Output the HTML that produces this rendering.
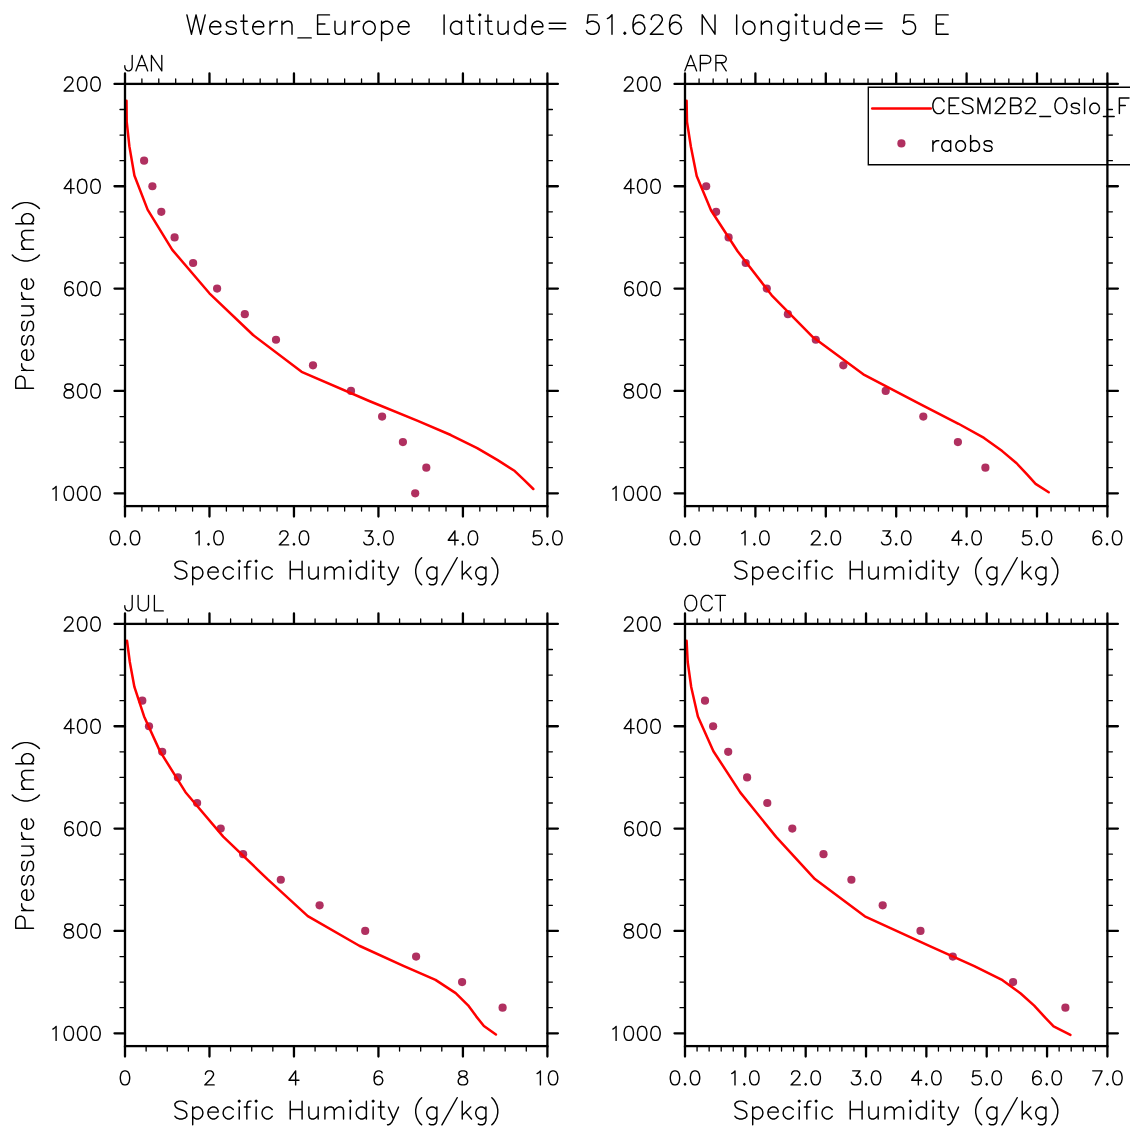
<!DOCTYPE html>
<html><head><meta charset="utf-8"><title>Western_Europe</title>
<style>html,body{margin:0;padding:0;background:#fff;font-family:"Liberation Sans",sans-serif;}svg{display:block}</style>
</head><body>
<svg width="1135" height="1135" viewBox="0 0 1135 1135" role="img" aria-label="Specific humidity profiles, Western Europe">
<desc>Western_Europe latitude= 51.626 N longitude= 5 E. Panels JAN, APR, JUL, OCT. Pressure (mb) versus Specific Humidity (g/kg). Legend: CESM2B2_Oslo_F (red line), raobs (maroon dots).</desc>
<circle cx="144.10" cy="160.66" r="4.10" fill="#b03060"/>
<circle cx="152.40" cy="186.25" r="4.10" fill="#b03060"/>
<circle cx="161.30" cy="211.84" r="4.10" fill="#b03060"/>
<circle cx="174.60" cy="237.42" r="4.10" fill="#b03060"/>
<circle cx="193.10" cy="263.01" r="4.10" fill="#b03060"/>
<circle cx="217.10" cy="288.60" r="4.10" fill="#b03060"/>
<circle cx="244.80" cy="314.19" r="4.10" fill="#b03060"/>
<circle cx="276.00" cy="339.77" r="4.10" fill="#b03060"/>
<circle cx="313.00" cy="365.36" r="4.10" fill="#b03060"/>
<circle cx="351.00" cy="390.95" r="4.10" fill="#b03060"/>
<circle cx="382.10" cy="416.54" r="4.10" fill="#b03060"/>
<circle cx="402.90" cy="442.12" r="4.10" fill="#b03060"/>
<circle cx="426.30" cy="467.71" r="4.10" fill="#b03060"/>
<circle cx="415.20" cy="493.30" r="4.10" fill="#b03060"/>
<polyline points="126.50,100.68 126.70,121.69 129.40,146.39 134.40,175.47 147.60,209.60 172.30,249.85 209.40,293.30 253.10,335.02 301.60,371.83 369.80,401.23 417.80,420.96 450.80,435.02 477.20,448.11 497.70,460.17 514.80,471.06 524.80,480.67 533.30,489.01" fill="none" stroke="#ff0000" stroke-width="2.50" stroke-linejoin="round" stroke-linecap="round"/>
<circle cx="706.20" cy="186.25" r="4.10" fill="#b03060"/>
<circle cx="716.10" cy="211.84" r="4.10" fill="#b03060"/>
<circle cx="728.60" cy="237.42" r="4.10" fill="#b03060"/>
<circle cx="745.70" cy="263.01" r="4.10" fill="#b03060"/>
<circle cx="766.80" cy="288.60" r="4.10" fill="#b03060"/>
<circle cx="787.90" cy="314.19" r="4.10" fill="#b03060"/>
<circle cx="815.80" cy="339.77" r="4.10" fill="#b03060"/>
<circle cx="843.30" cy="365.36" r="4.10" fill="#b03060"/>
<circle cx="885.70" cy="390.95" r="4.10" fill="#b03060"/>
<circle cx="923.30" cy="416.54" r="4.10" fill="#b03060"/>
<circle cx="957.90" cy="442.12" r="4.10" fill="#b03060"/>
<circle cx="985.40" cy="467.71" r="4.10" fill="#b03060"/>
<polyline points="686.60,100.74 687.00,121.86 690.90,146.71 696.70,176.02 711.10,210.50 737.60,251.24 771.70,295.30 813.10,337.28 863.30,374.33 919.70,403.91 958.50,423.77 984.00,437.92 1002.20,451.09 1016.60,463.24 1026.80,474.20 1035.60,483.87 1048.70,492.26" fill="none" stroke="#ff0000" stroke-width="2.50" stroke-linejoin="round" stroke-linecap="round"/>
<circle cx="142.30" cy="700.66" r="4.10" fill="#b03060"/>
<circle cx="149.00" cy="726.25" r="4.10" fill="#b03060"/>
<circle cx="162.20" cy="751.84" r="4.10" fill="#b03060"/>
<circle cx="177.90" cy="777.42" r="4.10" fill="#b03060"/>
<circle cx="197.10" cy="803.01" r="4.10" fill="#b03060"/>
<circle cx="220.70" cy="828.60" r="4.10" fill="#b03060"/>
<circle cx="243.10" cy="854.19" r="4.10" fill="#b03060"/>
<circle cx="280.80" cy="879.77" r="4.10" fill="#b03060"/>
<circle cx="319.60" cy="905.36" r="4.10" fill="#b03060"/>
<circle cx="365.20" cy="930.95" r="4.10" fill="#b03060"/>
<circle cx="416.10" cy="956.54" r="4.10" fill="#b03060"/>
<circle cx="462.10" cy="982.12" r="4.10" fill="#b03060"/>
<circle cx="502.60" cy="1007.71" r="4.10" fill="#b03060"/>
<polyline points="127.00,640.78 129.80,661.97 134.40,686.93 144.10,716.41 159.90,751.11 185.50,792.20 223.20,836.67 267.20,878.84 307.80,916.05 359.30,945.76 402.80,965.71 435.50,979.92 455.70,993.15 468.10,1005.35 476.20,1016.35 483.90,1026.07 495.90,1034.49" fill="none" stroke="#ff0000" stroke-width="2.50" stroke-linejoin="round" stroke-linecap="round"/>
<circle cx="705.00" cy="700.66" r="4.10" fill="#b03060"/>
<circle cx="713.10" cy="726.25" r="4.10" fill="#b03060"/>
<circle cx="728.20" cy="751.84" r="4.10" fill="#b03060"/>
<circle cx="747.10" cy="777.42" r="4.10" fill="#b03060"/>
<circle cx="767.30" cy="803.01" r="4.10" fill="#b03060"/>
<circle cx="792.30" cy="828.60" r="4.10" fill="#b03060"/>
<circle cx="823.50" cy="854.19" r="4.10" fill="#b03060"/>
<circle cx="851.40" cy="879.77" r="4.10" fill="#b03060"/>
<circle cx="882.70" cy="905.36" r="4.10" fill="#b03060"/>
<circle cx="920.50" cy="930.95" r="4.10" fill="#b03060"/>
<circle cx="952.80" cy="956.54" r="4.10" fill="#b03060"/>
<circle cx="1013.10" cy="982.12" r="4.10" fill="#b03060"/>
<circle cx="1065.40" cy="1007.71" r="4.10" fill="#b03060"/>
<polyline points="686.60,640.79 687.70,661.99 691.20,686.96 697.90,716.47 713.40,751.21 740.20,792.35 776.10,836.89 814.90,879.09 864.80,916.32 929.80,946.06 974.30,966.02 1002.50,980.24 1020.70,993.48 1034.20,1005.68 1044.30,1016.70 1053.60,1026.42 1070.40,1034.85" fill="none" stroke="#ff0000" stroke-width="2.50" stroke-linejoin="round" stroke-linecap="round"/>
<rect x="125.00" y="83.90" width="422.40" height="422.20" fill="none" stroke="#000" stroke-width="2.30"/>
<path d="M125.00 83.90 V73.40 M125.00 506.10 V516.60 M209.48 83.90 V73.40 M209.48 506.10 V516.60 M293.96 83.90 V73.40 M293.96 506.10 V516.60 M378.44 83.90 V73.40 M378.44 506.10 V516.60 M462.92 83.90 V73.40 M462.92 506.10 V516.60 M547.40 83.90 V73.40 M547.40 506.10 V516.60 M125.00 83.90 H114.50 M547.40 83.90 H557.90 M125.00 186.25 H114.50 M547.40 186.25 H557.90 M125.00 288.60 H114.50 M547.40 288.60 H557.90 M125.00 390.95 H114.50 M547.40 390.95 H557.90 M125.00 493.30 H114.50 M547.40 493.30 H557.90" stroke="#000" stroke-width="2.30" stroke-linecap="round" fill="none"/>
<path d="M141.90 83.90 V78.90 M141.90 506.10 V511.10 M158.79 83.90 V78.90 M158.79 506.10 V511.10 M175.69 83.90 V78.90 M175.69 506.10 V511.10 M192.58 83.90 V78.90 M192.58 506.10 V511.10 M226.38 83.90 V78.90 M226.38 506.10 V511.10 M243.27 83.90 V78.90 M243.27 506.10 V511.10 M260.17 83.90 V78.90 M260.17 506.10 V511.10 M277.06 83.90 V78.90 M277.06 506.10 V511.10 M310.86 83.90 V78.90 M310.86 506.10 V511.10 M327.75 83.90 V78.90 M327.75 506.10 V511.10 M344.65 83.90 V78.90 M344.65 506.10 V511.10 M361.54 83.90 V78.90 M361.54 506.10 V511.10 M395.34 83.90 V78.90 M395.34 506.10 V511.10 M412.23 83.90 V78.90 M412.23 506.10 V511.10 M429.13 83.90 V78.90 M429.13 506.10 V511.10 M446.02 83.90 V78.90 M446.02 506.10 V511.10 M479.82 83.90 V78.90 M479.82 506.10 V511.10 M496.71 83.90 V78.90 M496.71 506.10 V511.10 M513.61 83.90 V78.90 M513.61 506.10 V511.10 M530.50 83.90 V78.90 M530.50 506.10 V511.10 M125.00 109.49 H120.00 M547.40 109.49 H552.40 M125.00 135.07 H120.00 M547.40 135.07 H552.40 M125.00 160.66 H120.00 M547.40 160.66 H552.40 M125.00 211.84 H120.00 M547.40 211.84 H552.40 M125.00 237.42 H120.00 M547.40 237.42 H552.40 M125.00 263.01 H120.00 M547.40 263.01 H552.40 M125.00 314.19 H120.00 M547.40 314.19 H552.40 M125.00 339.77 H120.00 M547.40 339.77 H552.40 M125.00 365.36 H120.00 M547.40 365.36 H552.40 M125.00 416.54 H120.00 M547.40 416.54 H552.40 M125.00 442.12 H120.00 M547.40 442.12 H552.40 M125.00 467.71 H120.00 M547.40 467.71 H552.40" stroke="#000" stroke-width="1.30" stroke-linecap="round" fill="none"/>
<path transform="translate(100.20 91.00)" d="M-35.40 -10.69 L-35.40 -11.36 L-34.74 -12.69 L-34.07 -13.36 L-32.73 -14.03 L-30.06 -14.03 L-28.72 -13.36 L-28.06 -12.69 L-27.39 -11.36 L-27.39 -10.02 L-28.06 -8.68 L-29.39 -6.68 L-36.07 0.00 L-26.72 0.00 M-18.70 -14.03 L-20.71 -13.36 L-22.04 -11.36 L-22.71 -8.02 L-22.71 -6.01 L-22.04 -2.67 L-20.71 -0.67 L-18.70 0.00 L-17.37 0.00 L-15.36 -0.67 L-14.03 -2.67 L-13.36 -6.01 L-13.36 -8.02 L-14.03 -11.36 L-15.36 -13.36 L-17.37 -14.03 L-18.70 -14.03 M-5.34 -14.03 L-7.35 -13.36 L-8.68 -11.36 L-9.35 -8.02 L-9.35 -6.01 L-8.68 -2.67 L-7.35 -0.67 L-5.34 0.00 L-4.01 0.00 L-2.00 -0.67 L-0.67 -2.67 L0.00 -6.01 L0.00 -8.02 L-0.67 -11.36 L-2.00 -13.36 L-4.01 -14.03 L-5.34 -14.03" fill="none" stroke="#000" stroke-width="1.40" stroke-linecap="round" stroke-linejoin="round"/>
<path transform="translate(100.20 193.35)" d="M-29.39 -14.03 L-36.07 -4.68 L-26.05 -4.68 M-29.39 -14.03 L-29.39 0.00 M-18.70 -14.03 L-20.71 -13.36 L-22.04 -11.36 L-22.71 -8.02 L-22.71 -6.01 L-22.04 -2.67 L-20.71 -0.67 L-18.70 0.00 L-17.37 0.00 L-15.36 -0.67 L-14.03 -2.67 L-13.36 -6.01 L-13.36 -8.02 L-14.03 -11.36 L-15.36 -13.36 L-17.37 -14.03 L-18.70 -14.03 M-5.34 -14.03 L-7.35 -13.36 L-8.68 -11.36 L-9.35 -8.02 L-9.35 -6.01 L-8.68 -2.67 L-7.35 -0.67 L-5.34 0.00 L-4.01 0.00 L-2.00 -0.67 L-0.67 -2.67 L0.00 -6.01 L0.00 -8.02 L-0.67 -11.36 L-2.00 -13.36 L-4.01 -14.03 L-5.34 -14.03" fill="none" stroke="#000" stroke-width="1.40" stroke-linecap="round" stroke-linejoin="round"/>
<path transform="translate(100.20 295.70)" d="M-27.39 -12.02 L-28.06 -13.36 L-30.06 -14.03 L-31.40 -14.03 L-33.40 -13.36 L-34.74 -11.36 L-35.40 -8.02 L-35.40 -4.68 L-34.74 -2.00 L-33.40 -0.67 L-31.40 0.00 L-30.73 0.00 L-28.72 -0.67 L-27.39 -2.00 L-26.72 -4.01 L-26.72 -4.68 L-27.39 -6.68 L-28.72 -8.02 L-30.73 -8.68 L-31.40 -8.68 L-33.40 -8.02 L-34.74 -6.68 L-35.40 -4.68 M-18.70 -14.03 L-20.71 -13.36 L-22.04 -11.36 L-22.71 -8.02 L-22.71 -6.01 L-22.04 -2.67 L-20.71 -0.67 L-18.70 0.00 L-17.37 0.00 L-15.36 -0.67 L-14.03 -2.67 L-13.36 -6.01 L-13.36 -8.02 L-14.03 -11.36 L-15.36 -13.36 L-17.37 -14.03 L-18.70 -14.03 M-5.34 -14.03 L-7.35 -13.36 L-8.68 -11.36 L-9.35 -8.02 L-9.35 -6.01 L-8.68 -2.67 L-7.35 -0.67 L-5.34 0.00 L-4.01 0.00 L-2.00 -0.67 L-0.67 -2.67 L0.00 -6.01 L0.00 -8.02 L-0.67 -11.36 L-2.00 -13.36 L-4.01 -14.03 L-5.34 -14.03" fill="none" stroke="#000" stroke-width="1.40" stroke-linecap="round" stroke-linejoin="round"/>
<path transform="translate(100.20 398.05)" d="M-32.73 -14.03 L-34.74 -13.36 L-35.40 -12.02 L-35.40 -10.69 L-34.74 -9.35 L-33.40 -8.68 L-30.73 -8.02 L-28.72 -7.35 L-27.39 -6.01 L-26.72 -4.68 L-26.72 -2.67 L-27.39 -1.34 L-28.06 -0.67 L-30.06 0.00 L-32.73 0.00 L-34.74 -0.67 L-35.40 -1.34 L-36.07 -2.67 L-36.07 -4.68 L-35.40 -6.01 L-34.07 -7.35 L-32.06 -8.02 L-29.39 -8.68 L-28.06 -9.35 L-27.39 -10.69 L-27.39 -12.02 L-28.06 -13.36 L-30.06 -14.03 L-32.73 -14.03 M-18.70 -14.03 L-20.71 -13.36 L-22.04 -11.36 L-22.71 -8.02 L-22.71 -6.01 L-22.04 -2.67 L-20.71 -0.67 L-18.70 0.00 L-17.37 0.00 L-15.36 -0.67 L-14.03 -2.67 L-13.36 -6.01 L-13.36 -8.02 L-14.03 -11.36 L-15.36 -13.36 L-17.37 -14.03 L-18.70 -14.03 M-5.34 -14.03 L-7.35 -13.36 L-8.68 -11.36 L-9.35 -8.02 L-9.35 -6.01 L-8.68 -2.67 L-7.35 -0.67 L-5.34 0.00 L-4.01 0.00 L-2.00 -0.67 L-0.67 -2.67 L0.00 -6.01 L0.00 -8.02 L-0.67 -11.36 L-2.00 -13.36 L-4.01 -14.03 L-5.34 -14.03" fill="none" stroke="#000" stroke-width="1.40" stroke-linecap="round" stroke-linejoin="round"/>
<path transform="translate(100.20 500.40)" d="M-47.43 -11.36 L-46.09 -12.02 L-44.09 -14.03 L-44.09 0.00 M-32.06 -14.03 L-34.07 -13.36 L-35.40 -11.36 L-36.07 -8.02 L-36.07 -6.01 L-35.40 -2.67 L-34.07 -0.67 L-32.06 0.00 L-30.73 0.00 L-28.72 -0.67 L-27.39 -2.67 L-26.72 -6.01 L-26.72 -8.02 L-27.39 -11.36 L-28.72 -13.36 L-30.73 -14.03 L-32.06 -14.03 M-18.70 -14.03 L-20.71 -13.36 L-22.04 -11.36 L-22.71 -8.02 L-22.71 -6.01 L-22.04 -2.67 L-20.71 -0.67 L-18.70 0.00 L-17.37 0.00 L-15.36 -0.67 L-14.03 -2.67 L-13.36 -6.01 L-13.36 -8.02 L-14.03 -11.36 L-15.36 -13.36 L-17.37 -14.03 L-18.70 -14.03 M-5.34 -14.03 L-7.35 -13.36 L-8.68 -11.36 L-9.35 -8.02 L-9.35 -6.01 L-8.68 -2.67 L-7.35 -0.67 L-5.34 0.00 L-4.01 0.00 L-2.00 -0.67 L-0.67 -2.67 L0.00 -6.01 L0.00 -8.02 L-0.67 -11.36 L-2.00 -13.36 L-4.01 -14.03 L-5.34 -14.03" fill="none" stroke="#000" stroke-width="1.40" stroke-linecap="round" stroke-linejoin="round"/>
<path transform="translate(125.00 544.90)" d="M-10.69 -14.03 L-12.69 -13.36 L-14.03 -11.36 L-14.70 -8.02 L-14.70 -6.01 L-14.03 -2.67 L-12.69 -0.67 L-10.69 0.00 L-9.35 0.00 L-7.35 -0.67 L-6.01 -2.67 L-5.34 -6.01 L-5.34 -8.02 L-6.01 -11.36 L-7.35 -13.36 L-9.35 -14.03 L-10.69 -14.03 M0.00 -1.34 L-0.67 -0.67 L0.00 0.00 L0.67 -0.67 L0.00 -1.34 M9.35 -14.03 L7.35 -13.36 L6.01 -11.36 L5.34 -8.02 L5.34 -6.01 L6.01 -2.67 L7.35 -0.67 L9.35 0.00 L10.69 0.00 L12.69 -0.67 L14.03 -2.67 L14.70 -6.01 L14.70 -8.02 L14.03 -11.36 L12.69 -13.36 L10.69 -14.03 L9.35 -14.03" fill="none" stroke="#000" stroke-width="1.40" stroke-linecap="round" stroke-linejoin="round"/>
<path transform="translate(209.48 544.90)" d="M-13.69 -11.36 L-12.36 -12.02 L-10.35 -14.03 L-10.35 0.00 M-1.00 -1.34 L-1.67 -0.67 L-1.00 0.00 L-0.33 -0.67 L-1.00 -1.34 M8.35 -14.03 L6.35 -13.36 L5.01 -11.36 L4.34 -8.02 L4.34 -6.01 L5.01 -2.67 L6.35 -0.67 L8.35 0.00 L9.69 0.00 L11.69 -0.67 L13.03 -2.67 L13.69 -6.01 L13.69 -8.02 L13.03 -11.36 L11.69 -13.36 L9.69 -14.03 L8.35 -14.03" fill="none" stroke="#000" stroke-width="1.40" stroke-linecap="round" stroke-linejoin="round"/>
<path transform="translate(293.96 544.90)" d="M-14.03 -10.69 L-14.03 -11.36 L-13.36 -12.69 L-12.69 -13.36 L-11.36 -14.03 L-8.68 -14.03 L-7.35 -13.36 L-6.68 -12.69 L-6.01 -11.36 L-6.01 -10.02 L-6.68 -8.68 L-8.02 -6.68 L-14.70 0.00 L-5.34 0.00 M0.00 -1.34 L-0.67 -0.67 L0.00 0.00 L0.67 -0.67 L0.00 -1.34 M9.35 -14.03 L7.35 -13.36 L6.01 -11.36 L5.34 -8.02 L5.34 -6.01 L6.01 -2.67 L7.35 -0.67 L9.35 0.00 L10.69 0.00 L12.69 -0.67 L14.03 -2.67 L14.70 -6.01 L14.70 -8.02 L14.03 -11.36 L12.69 -13.36 L10.69 -14.03 L9.35 -14.03" fill="none" stroke="#000" stroke-width="1.40" stroke-linecap="round" stroke-linejoin="round"/>
<path transform="translate(378.44 544.90)" d="M-13.36 -14.03 L-6.01 -14.03 L-10.02 -8.68 L-8.02 -8.68 L-6.68 -8.02 L-6.01 -7.35 L-5.34 -5.34 L-5.34 -4.01 L-6.01 -2.00 L-7.35 -0.67 L-9.35 0.00 L-11.36 0.00 L-13.36 -0.67 L-14.03 -1.34 L-14.70 -2.67 M0.00 -1.34 L-0.67 -0.67 L0.00 0.00 L0.67 -0.67 L0.00 -1.34 M9.35 -14.03 L7.35 -13.36 L6.01 -11.36 L5.34 -8.02 L5.34 -6.01 L6.01 -2.67 L7.35 -0.67 L9.35 0.00 L10.69 0.00 L12.69 -0.67 L14.03 -2.67 L14.70 -6.01 L14.70 -8.02 L14.03 -11.36 L12.69 -13.36 L10.69 -14.03 L9.35 -14.03" fill="none" stroke="#000" stroke-width="1.40" stroke-linecap="round" stroke-linejoin="round"/>
<path transform="translate(462.92 544.90)" d="M-8.02 -14.03 L-14.70 -4.68 L-4.68 -4.68 M-8.02 -14.03 L-8.02 0.00 M0.00 -1.34 L-0.67 -0.67 L0.00 0.00 L0.67 -0.67 L0.00 -1.34 M9.35 -14.03 L7.35 -13.36 L6.01 -11.36 L5.34 -8.02 L5.34 -6.01 L6.01 -2.67 L7.35 -0.67 L9.35 0.00 L10.69 0.00 L12.69 -0.67 L14.03 -2.67 L14.70 -6.01 L14.70 -8.02 L14.03 -11.36 L12.69 -13.36 L10.69 -14.03 L9.35 -14.03" fill="none" stroke="#000" stroke-width="1.40" stroke-linecap="round" stroke-linejoin="round"/>
<path transform="translate(547.40 544.90)" d="M-6.68 -14.03 L-13.36 -14.03 L-14.03 -8.02 L-13.36 -8.68 L-11.36 -9.35 L-9.35 -9.35 L-7.35 -8.68 L-6.01 -7.35 L-5.34 -5.34 L-5.34 -4.01 L-6.01 -2.00 L-7.35 -0.67 L-9.35 0.00 L-11.36 0.00 L-13.36 -0.67 L-14.03 -1.34 L-14.70 -2.67 M0.00 -1.34 L-0.67 -0.67 L0.00 0.00 L0.67 -0.67 L0.00 -1.34 M9.35 -14.03 L7.35 -13.36 L6.01 -11.36 L5.34 -8.02 L5.34 -6.01 L6.01 -2.67 L7.35 -0.67 L9.35 0.00 L10.69 0.00 L12.69 -0.67 L14.03 -2.67 L14.70 -6.01 L14.70 -8.02 L14.03 -11.36 L12.69 -13.36 L10.69 -14.03 L9.35 -14.03" fill="none" stroke="#000" stroke-width="1.40" stroke-linecap="round" stroke-linejoin="round"/>
<path transform="translate(124.80 70.90)" d="M7.40 -15.54 L7.40 -3.70 L6.66 -1.48 L5.92 -0.74 L4.44 0.00 L2.96 0.00 L1.48 -0.74 L0.74 -1.48 L0.00 -3.70 L0.00 -5.18 M17.02 -15.54 L11.10 0.00 M17.02 -15.54 L22.94 0.00 M13.32 -5.18 L20.72 -5.18 M26.64 -15.54 L26.64 0.00 M26.64 -15.54 L37.00 0.00 M37.00 -15.54 L37.00 0.00" fill="none" stroke="#000" stroke-width="1.30" stroke-linecap="round" stroke-linejoin="round"/>
<path transform="translate(336.35 578.90)" d="M-149.57 -15.23 L-151.26 -16.92 L-153.80 -17.77 L-157.19 -17.77 L-159.72 -16.92 L-161.42 -15.23 L-161.42 -13.54 L-160.57 -11.84 L-159.72 -11.00 L-158.03 -10.15 L-152.96 -8.46 L-151.26 -7.61 L-150.42 -6.77 L-149.57 -5.08 L-149.57 -2.54 L-151.26 -0.85 L-153.80 0.00 L-157.19 0.00 L-159.72 -0.85 L-161.42 -2.54 M-143.65 -11.84 L-143.65 5.92 M-143.65 -9.31 L-141.96 -11.00 L-140.27 -11.84 L-137.73 -11.84 L-136.04 -11.00 L-134.34 -9.31 L-133.50 -6.77 L-133.50 -5.08 L-134.34 -2.54 L-136.04 -0.85 L-137.73 0.00 L-140.27 0.00 L-141.96 -0.85 L-143.65 -2.54 M-128.42 -6.77 L-118.27 -6.77 L-118.27 -8.46 L-119.12 -10.15 L-119.96 -11.00 L-121.65 -11.84 L-124.19 -11.84 L-125.88 -11.00 L-127.58 -9.31 L-128.42 -6.77 L-128.42 -5.08 L-127.58 -2.54 L-125.88 -0.85 L-124.19 0.00 L-121.65 0.00 L-119.96 -0.85 L-118.27 -2.54 M-103.04 -9.31 L-104.73 -11.00 L-106.43 -11.84 L-108.96 -11.84 L-110.66 -11.00 L-112.35 -9.31 L-113.19 -6.77 L-113.19 -5.08 L-112.35 -2.54 L-110.66 -0.85 L-108.96 0.00 L-106.43 0.00 L-104.73 -0.85 L-103.04 -2.54 M-97.97 -17.77 L-97.12 -16.92 L-96.27 -17.77 L-97.12 -18.61 L-97.97 -17.77 M-97.12 -11.84 L-97.12 0.00 M-85.28 -17.77 L-86.97 -17.77 L-88.66 -16.92 L-89.51 -14.38 L-89.51 0.00 M-92.04 -11.84 L-86.12 -11.84 M-81.05 -17.77 L-80.20 -16.92 L-79.35 -17.77 L-80.20 -18.61 L-81.05 -17.77 M-80.20 -11.84 L-80.20 0.00 M-64.13 -9.31 L-65.82 -11.00 L-67.51 -11.84 L-70.05 -11.84 L-71.74 -11.00 L-73.43 -9.31 L-74.28 -6.77 L-74.28 -5.08 L-73.43 -2.54 L-71.74 -0.85 L-70.05 0.00 L-67.51 0.00 L-65.82 -0.85 L-64.13 -2.54 M-46.11 -17.77 L-46.11 0.00 M-34.26 -17.77 L-34.26 0.00 M-46.11 -9.31 L-34.26 -9.31 M-27.49 -11.84 L-27.49 -3.38 L-26.65 -0.85 L-24.96 0.00 L-22.42 0.00 L-20.73 -0.85 L-18.19 -3.38 M-18.19 -11.84 L-18.19 0.00 M-11.42 -11.84 L-11.42 0.00 M-11.42 -8.46 L-8.88 -11.00 L-7.19 -11.84 L-4.65 -11.84 L-2.96 -11.00 L-2.11 -8.46 L-2.11 0.00 M-2.11 -8.46 L0.42 -11.00 L2.11 -11.84 L4.65 -11.84 L6.34 -11.00 L7.19 -8.46 L7.19 0.00 M13.11 -17.77 L13.96 -16.92 L14.80 -17.77 L13.96 -18.61 L13.11 -17.77 M13.96 -11.84 L13.96 0.00 M30.03 -17.77 L30.03 0.00 M30.03 -9.31 L28.34 -11.00 L26.65 -11.84 L24.11 -11.84 L22.42 -11.00 L20.73 -9.31 L19.88 -6.77 L19.88 -5.08 L20.73 -2.54 L22.42 -0.85 L24.11 0.00 L26.65 0.00 L28.34 -0.85 L30.03 -2.54 M35.95 -17.77 L36.80 -16.92 L37.65 -17.77 L36.80 -18.61 L35.95 -17.77 M36.80 -11.84 L36.80 0.00 M44.41 -17.77 L44.41 -3.38 L45.26 -0.85 L46.95 0.00 L48.64 0.00 M41.88 -11.84 L47.80 -11.84 M52.03 -11.84 L57.10 0.00 M62.18 -11.84 L57.10 0.00 L55.41 3.38 L53.72 5.08 L52.03 5.92 L51.18 5.92 M85.28 -21.15 L83.58 -19.46 L81.89 -16.92 L80.20 -13.54 L79.35 -9.31 L79.35 -5.92 L80.20 -1.69 L81.89 1.69 L83.58 4.23 L85.28 5.92 M100.50 -11.84 L100.50 1.69 L99.66 4.23 L98.81 5.08 L97.12 5.92 L94.58 5.92 L92.89 5.08 M100.50 -9.31 L98.81 -11.00 L97.12 -11.84 L94.58 -11.84 L92.89 -11.00 L91.20 -9.31 L90.35 -6.77 L90.35 -5.08 L91.20 -2.54 L92.89 -0.85 L94.58 0.00 L97.12 0.00 L98.81 -0.85 L100.50 -2.54 M120.81 -21.15 L105.58 5.92 M125.88 -17.77 L125.88 0.00 M134.34 -11.84 L125.88 -3.38 M129.27 -6.77 L135.19 0.00 M149.57 -11.84 L149.57 1.69 L148.73 4.23 L147.88 5.08 L146.19 5.92 L143.65 5.92 L141.96 5.08 M149.57 -9.31 L147.88 -11.00 L146.19 -11.84 L143.65 -11.84 L141.96 -11.00 L140.27 -9.31 L139.42 -6.77 L139.42 -5.08 L140.27 -2.54 L141.96 -0.85 L143.65 0.00 L146.19 0.00 L147.88 -0.85 L149.57 -2.54 M155.49 -21.15 L157.19 -19.46 L158.88 -16.92 L160.57 -13.54 L161.42 -9.31 L161.42 -5.92 L160.57 -1.69 L158.88 1.69 L157.19 4.23 L155.49 5.92" fill="none" stroke="#000" stroke-width="1.45" stroke-linecap="round" stroke-linejoin="round"/>
<path transform="translate(33.50 295.40) rotate(-90)" d="M-92.76 -17.77 L-92.76 0.00 M-92.76 -17.77 L-85.15 -17.77 L-82.61 -16.92 L-81.77 -16.07 L-80.92 -14.38 L-80.92 -11.84 L-81.77 -10.15 L-82.61 -9.31 L-85.15 -8.46 L-92.76 -8.46 M-75.00 -11.84 L-75.00 0.00 M-75.00 -6.77 L-74.15 -9.31 L-72.46 -11.00 L-70.77 -11.84 L-68.23 -11.84 M-64.85 -6.77 L-54.69 -6.77 L-54.69 -8.46 L-55.54 -10.15 L-56.39 -11.00 L-58.08 -11.84 L-60.62 -11.84 L-62.31 -11.00 L-64.00 -9.31 L-64.85 -6.77 L-64.85 -5.08 L-64.00 -2.54 L-62.31 -0.85 L-60.62 0.00 L-58.08 0.00 L-56.39 -0.85 L-54.69 -2.54 M-40.31 -9.31 L-41.16 -11.00 L-43.70 -11.84 L-46.23 -11.84 L-48.77 -11.00 L-49.62 -9.31 L-48.77 -7.61 L-47.08 -6.77 L-42.85 -5.92 L-41.16 -5.08 L-40.31 -3.38 L-40.31 -2.54 L-41.16 -0.85 L-43.70 0.00 L-46.23 0.00 L-48.77 -0.85 L-49.62 -2.54 M-25.93 -9.31 L-26.78 -11.00 L-29.31 -11.84 L-31.85 -11.84 L-34.39 -11.00 L-35.24 -9.31 L-34.39 -7.61 L-32.70 -6.77 L-28.47 -5.92 L-26.78 -5.08 L-25.93 -3.38 L-25.93 -2.54 L-26.78 -0.85 L-29.31 0.00 L-31.85 0.00 L-34.39 -0.85 L-35.24 -2.54 M-20.01 -11.84 L-20.01 -3.38 L-19.16 -0.85 L-17.47 0.00 L-14.93 0.00 L-13.24 -0.85 L-10.70 -3.38 M-10.70 -11.84 L-10.70 0.00 M-3.93 -11.84 L-3.93 0.00 M-3.93 -6.77 L-3.09 -9.31 L-1.40 -11.00 L0.30 -11.84 L2.83 -11.84 M6.22 -6.77 L16.37 -6.77 L16.37 -8.46 L15.52 -10.15 L14.68 -11.00 L12.99 -11.84 L10.45 -11.84 L8.76 -11.00 L7.06 -9.31 L6.22 -6.77 L6.22 -5.08 L7.06 -2.54 L8.76 -0.85 L10.45 0.00 L12.99 0.00 L14.68 -0.85 L16.37 -2.54 M40.31 -21.15 L38.62 -19.46 L36.93 -16.92 L35.24 -13.54 L34.39 -9.31 L34.39 -5.92 L35.24 -1.69 L36.93 1.69 L38.62 4.23 L40.31 5.92 M46.23 -11.84 L46.23 0.00 M46.23 -8.46 L48.77 -11.00 L50.46 -11.84 L53.00 -11.84 L54.69 -11.00 L55.54 -8.46 L55.54 0.00 M55.54 -8.46 L58.08 -11.00 L59.77 -11.84 L62.31 -11.84 L64.00 -11.00 L64.85 -8.46 L64.85 0.00 M71.61 -17.77 L71.61 0.00 M71.61 -9.31 L73.31 -11.00 L75.00 -11.84 L77.54 -11.84 L79.23 -11.00 L80.92 -9.31 L81.77 -6.77 L81.77 -5.08 L80.92 -2.54 L79.23 -0.85 L77.54 0.00 L75.00 0.00 L73.31 -0.85 L71.61 -2.54 M86.84 -21.15 L88.53 -19.46 L90.23 -16.92 L91.92 -13.54 L92.76 -9.31 L92.76 -5.92 L91.92 -1.69 L90.23 1.69 L88.53 4.23 L86.84 5.92" fill="none" stroke="#000" stroke-width="1.45" stroke-linecap="round" stroke-linejoin="round"/>
<rect x="685.00" y="83.90" width="422.40" height="422.20" fill="none" stroke="#000" stroke-width="2.30"/>
<path d="M685.00 83.90 V73.40 M685.00 506.10 V516.60 M755.40 83.90 V73.40 M755.40 506.10 V516.60 M825.80 83.90 V73.40 M825.80 506.10 V516.60 M896.20 83.90 V73.40 M896.20 506.10 V516.60 M966.60 83.90 V73.40 M966.60 506.10 V516.60 M1037.00 83.90 V73.40 M1037.00 506.10 V516.60 M1107.40 83.90 V73.40 M1107.40 506.10 V516.60 M685.00 83.90 H674.50 M1107.40 83.90 H1117.90 M685.00 186.25 H674.50 M1107.40 186.25 H1117.90 M685.00 288.60 H674.50 M1107.40 288.60 H1117.90 M685.00 390.95 H674.50 M1107.40 390.95 H1117.90 M685.00 493.30 H674.50 M1107.40 493.30 H1117.90" stroke="#000" stroke-width="2.30" stroke-linecap="round" fill="none"/>
<path d="M699.08 83.90 V78.90 M699.08 506.10 V511.10 M713.16 83.90 V78.90 M713.16 506.10 V511.10 M727.24 83.90 V78.90 M727.24 506.10 V511.10 M741.32 83.90 V78.90 M741.32 506.10 V511.10 M769.48 83.90 V78.90 M769.48 506.10 V511.10 M783.56 83.90 V78.90 M783.56 506.10 V511.10 M797.64 83.90 V78.90 M797.64 506.10 V511.10 M811.72 83.90 V78.90 M811.72 506.10 V511.10 M839.88 83.90 V78.90 M839.88 506.10 V511.10 M853.96 83.90 V78.90 M853.96 506.10 V511.10 M868.04 83.90 V78.90 M868.04 506.10 V511.10 M882.12 83.90 V78.90 M882.12 506.10 V511.10 M910.28 83.90 V78.90 M910.28 506.10 V511.10 M924.36 83.90 V78.90 M924.36 506.10 V511.10 M938.44 83.90 V78.90 M938.44 506.10 V511.10 M952.52 83.90 V78.90 M952.52 506.10 V511.10 M980.68 83.90 V78.90 M980.68 506.10 V511.10 M994.76 83.90 V78.90 M994.76 506.10 V511.10 M1008.84 83.90 V78.90 M1008.84 506.10 V511.10 M1022.92 83.90 V78.90 M1022.92 506.10 V511.10 M1051.08 83.90 V78.90 M1051.08 506.10 V511.10 M1065.16 83.90 V78.90 M1065.16 506.10 V511.10 M1079.24 83.90 V78.90 M1079.24 506.10 V511.10 M1093.32 83.90 V78.90 M1093.32 506.10 V511.10 M685.00 109.49 H680.00 M1107.40 109.49 H1112.40 M685.00 135.07 H680.00 M1107.40 135.07 H1112.40 M685.00 160.66 H680.00 M1107.40 160.66 H1112.40 M685.00 211.84 H680.00 M1107.40 211.84 H1112.40 M685.00 237.42 H680.00 M1107.40 237.42 H1112.40 M685.00 263.01 H680.00 M1107.40 263.01 H1112.40 M685.00 314.19 H680.00 M1107.40 314.19 H1112.40 M685.00 339.77 H680.00 M1107.40 339.77 H1112.40 M685.00 365.36 H680.00 M1107.40 365.36 H1112.40 M685.00 416.54 H680.00 M1107.40 416.54 H1112.40 M685.00 442.12 H680.00 M1107.40 442.12 H1112.40 M685.00 467.71 H680.00 M1107.40 467.71 H1112.40" stroke="#000" stroke-width="1.30" stroke-linecap="round" fill="none"/>
<path transform="translate(660.20 91.00)" d="M-35.40 -10.69 L-35.40 -11.36 L-34.74 -12.69 L-34.07 -13.36 L-32.73 -14.03 L-30.06 -14.03 L-28.72 -13.36 L-28.06 -12.69 L-27.39 -11.36 L-27.39 -10.02 L-28.06 -8.68 L-29.39 -6.68 L-36.07 0.00 L-26.72 0.00 M-18.70 -14.03 L-20.71 -13.36 L-22.04 -11.36 L-22.71 -8.02 L-22.71 -6.01 L-22.04 -2.67 L-20.71 -0.67 L-18.70 0.00 L-17.37 0.00 L-15.36 -0.67 L-14.03 -2.67 L-13.36 -6.01 L-13.36 -8.02 L-14.03 -11.36 L-15.36 -13.36 L-17.37 -14.03 L-18.70 -14.03 M-5.34 -14.03 L-7.35 -13.36 L-8.68 -11.36 L-9.35 -8.02 L-9.35 -6.01 L-8.68 -2.67 L-7.35 -0.67 L-5.34 0.00 L-4.01 0.00 L-2.00 -0.67 L-0.67 -2.67 L0.00 -6.01 L0.00 -8.02 L-0.67 -11.36 L-2.00 -13.36 L-4.01 -14.03 L-5.34 -14.03" fill="none" stroke="#000" stroke-width="1.40" stroke-linecap="round" stroke-linejoin="round"/>
<path transform="translate(660.20 193.35)" d="M-29.39 -14.03 L-36.07 -4.68 L-26.05 -4.68 M-29.39 -14.03 L-29.39 0.00 M-18.70 -14.03 L-20.71 -13.36 L-22.04 -11.36 L-22.71 -8.02 L-22.71 -6.01 L-22.04 -2.67 L-20.71 -0.67 L-18.70 0.00 L-17.37 0.00 L-15.36 -0.67 L-14.03 -2.67 L-13.36 -6.01 L-13.36 -8.02 L-14.03 -11.36 L-15.36 -13.36 L-17.37 -14.03 L-18.70 -14.03 M-5.34 -14.03 L-7.35 -13.36 L-8.68 -11.36 L-9.35 -8.02 L-9.35 -6.01 L-8.68 -2.67 L-7.35 -0.67 L-5.34 0.00 L-4.01 0.00 L-2.00 -0.67 L-0.67 -2.67 L0.00 -6.01 L0.00 -8.02 L-0.67 -11.36 L-2.00 -13.36 L-4.01 -14.03 L-5.34 -14.03" fill="none" stroke="#000" stroke-width="1.40" stroke-linecap="round" stroke-linejoin="round"/>
<path transform="translate(660.20 295.70)" d="M-27.39 -12.02 L-28.06 -13.36 L-30.06 -14.03 L-31.40 -14.03 L-33.40 -13.36 L-34.74 -11.36 L-35.40 -8.02 L-35.40 -4.68 L-34.74 -2.00 L-33.40 -0.67 L-31.40 0.00 L-30.73 0.00 L-28.72 -0.67 L-27.39 -2.00 L-26.72 -4.01 L-26.72 -4.68 L-27.39 -6.68 L-28.72 -8.02 L-30.73 -8.68 L-31.40 -8.68 L-33.40 -8.02 L-34.74 -6.68 L-35.40 -4.68 M-18.70 -14.03 L-20.71 -13.36 L-22.04 -11.36 L-22.71 -8.02 L-22.71 -6.01 L-22.04 -2.67 L-20.71 -0.67 L-18.70 0.00 L-17.37 0.00 L-15.36 -0.67 L-14.03 -2.67 L-13.36 -6.01 L-13.36 -8.02 L-14.03 -11.36 L-15.36 -13.36 L-17.37 -14.03 L-18.70 -14.03 M-5.34 -14.03 L-7.35 -13.36 L-8.68 -11.36 L-9.35 -8.02 L-9.35 -6.01 L-8.68 -2.67 L-7.35 -0.67 L-5.34 0.00 L-4.01 0.00 L-2.00 -0.67 L-0.67 -2.67 L0.00 -6.01 L0.00 -8.02 L-0.67 -11.36 L-2.00 -13.36 L-4.01 -14.03 L-5.34 -14.03" fill="none" stroke="#000" stroke-width="1.40" stroke-linecap="round" stroke-linejoin="round"/>
<path transform="translate(660.20 398.05)" d="M-32.73 -14.03 L-34.74 -13.36 L-35.40 -12.02 L-35.40 -10.69 L-34.74 -9.35 L-33.40 -8.68 L-30.73 -8.02 L-28.72 -7.35 L-27.39 -6.01 L-26.72 -4.68 L-26.72 -2.67 L-27.39 -1.34 L-28.06 -0.67 L-30.06 0.00 L-32.73 0.00 L-34.74 -0.67 L-35.40 -1.34 L-36.07 -2.67 L-36.07 -4.68 L-35.40 -6.01 L-34.07 -7.35 L-32.06 -8.02 L-29.39 -8.68 L-28.06 -9.35 L-27.39 -10.69 L-27.39 -12.02 L-28.06 -13.36 L-30.06 -14.03 L-32.73 -14.03 M-18.70 -14.03 L-20.71 -13.36 L-22.04 -11.36 L-22.71 -8.02 L-22.71 -6.01 L-22.04 -2.67 L-20.71 -0.67 L-18.70 0.00 L-17.37 0.00 L-15.36 -0.67 L-14.03 -2.67 L-13.36 -6.01 L-13.36 -8.02 L-14.03 -11.36 L-15.36 -13.36 L-17.37 -14.03 L-18.70 -14.03 M-5.34 -14.03 L-7.35 -13.36 L-8.68 -11.36 L-9.35 -8.02 L-9.35 -6.01 L-8.68 -2.67 L-7.35 -0.67 L-5.34 0.00 L-4.01 0.00 L-2.00 -0.67 L-0.67 -2.67 L0.00 -6.01 L0.00 -8.02 L-0.67 -11.36 L-2.00 -13.36 L-4.01 -14.03 L-5.34 -14.03" fill="none" stroke="#000" stroke-width="1.40" stroke-linecap="round" stroke-linejoin="round"/>
<path transform="translate(660.20 500.40)" d="M-47.43 -11.36 L-46.09 -12.02 L-44.09 -14.03 L-44.09 0.00 M-32.06 -14.03 L-34.07 -13.36 L-35.40 -11.36 L-36.07 -8.02 L-36.07 -6.01 L-35.40 -2.67 L-34.07 -0.67 L-32.06 0.00 L-30.73 0.00 L-28.72 -0.67 L-27.39 -2.67 L-26.72 -6.01 L-26.72 -8.02 L-27.39 -11.36 L-28.72 -13.36 L-30.73 -14.03 L-32.06 -14.03 M-18.70 -14.03 L-20.71 -13.36 L-22.04 -11.36 L-22.71 -8.02 L-22.71 -6.01 L-22.04 -2.67 L-20.71 -0.67 L-18.70 0.00 L-17.37 0.00 L-15.36 -0.67 L-14.03 -2.67 L-13.36 -6.01 L-13.36 -8.02 L-14.03 -11.36 L-15.36 -13.36 L-17.37 -14.03 L-18.70 -14.03 M-5.34 -14.03 L-7.35 -13.36 L-8.68 -11.36 L-9.35 -8.02 L-9.35 -6.01 L-8.68 -2.67 L-7.35 -0.67 L-5.34 0.00 L-4.01 0.00 L-2.00 -0.67 L-0.67 -2.67 L0.00 -6.01 L0.00 -8.02 L-0.67 -11.36 L-2.00 -13.36 L-4.01 -14.03 L-5.34 -14.03" fill="none" stroke="#000" stroke-width="1.40" stroke-linecap="round" stroke-linejoin="round"/>
<path transform="translate(685.00 544.90)" d="M-10.69 -14.03 L-12.69 -13.36 L-14.03 -11.36 L-14.70 -8.02 L-14.70 -6.01 L-14.03 -2.67 L-12.69 -0.67 L-10.69 0.00 L-9.35 0.00 L-7.35 -0.67 L-6.01 -2.67 L-5.34 -6.01 L-5.34 -8.02 L-6.01 -11.36 L-7.35 -13.36 L-9.35 -14.03 L-10.69 -14.03 M0.00 -1.34 L-0.67 -0.67 L0.00 0.00 L0.67 -0.67 L0.00 -1.34 M9.35 -14.03 L7.35 -13.36 L6.01 -11.36 L5.34 -8.02 L5.34 -6.01 L6.01 -2.67 L7.35 -0.67 L9.35 0.00 L10.69 0.00 L12.69 -0.67 L14.03 -2.67 L14.70 -6.01 L14.70 -8.02 L14.03 -11.36 L12.69 -13.36 L10.69 -14.03 L9.35 -14.03" fill="none" stroke="#000" stroke-width="1.40" stroke-linecap="round" stroke-linejoin="round"/>
<path transform="translate(755.40 544.90)" d="M-13.69 -11.36 L-12.36 -12.02 L-10.35 -14.03 L-10.35 0.00 M-1.00 -1.34 L-1.67 -0.67 L-1.00 0.00 L-0.33 -0.67 L-1.00 -1.34 M8.35 -14.03 L6.35 -13.36 L5.01 -11.36 L4.34 -8.02 L4.34 -6.01 L5.01 -2.67 L6.35 -0.67 L8.35 0.00 L9.69 0.00 L11.69 -0.67 L13.03 -2.67 L13.69 -6.01 L13.69 -8.02 L13.03 -11.36 L11.69 -13.36 L9.69 -14.03 L8.35 -14.03" fill="none" stroke="#000" stroke-width="1.40" stroke-linecap="round" stroke-linejoin="round"/>
<path transform="translate(825.80 544.90)" d="M-14.03 -10.69 L-14.03 -11.36 L-13.36 -12.69 L-12.69 -13.36 L-11.36 -14.03 L-8.68 -14.03 L-7.35 -13.36 L-6.68 -12.69 L-6.01 -11.36 L-6.01 -10.02 L-6.68 -8.68 L-8.02 -6.68 L-14.70 0.00 L-5.34 0.00 M0.00 -1.34 L-0.67 -0.67 L0.00 0.00 L0.67 -0.67 L0.00 -1.34 M9.35 -14.03 L7.35 -13.36 L6.01 -11.36 L5.34 -8.02 L5.34 -6.01 L6.01 -2.67 L7.35 -0.67 L9.35 0.00 L10.69 0.00 L12.69 -0.67 L14.03 -2.67 L14.70 -6.01 L14.70 -8.02 L14.03 -11.36 L12.69 -13.36 L10.69 -14.03 L9.35 -14.03" fill="none" stroke="#000" stroke-width="1.40" stroke-linecap="round" stroke-linejoin="round"/>
<path transform="translate(896.20 544.90)" d="M-13.36 -14.03 L-6.01 -14.03 L-10.02 -8.68 L-8.02 -8.68 L-6.68 -8.02 L-6.01 -7.35 L-5.34 -5.34 L-5.34 -4.01 L-6.01 -2.00 L-7.35 -0.67 L-9.35 0.00 L-11.36 0.00 L-13.36 -0.67 L-14.03 -1.34 L-14.70 -2.67 M0.00 -1.34 L-0.67 -0.67 L0.00 0.00 L0.67 -0.67 L0.00 -1.34 M9.35 -14.03 L7.35 -13.36 L6.01 -11.36 L5.34 -8.02 L5.34 -6.01 L6.01 -2.67 L7.35 -0.67 L9.35 0.00 L10.69 0.00 L12.69 -0.67 L14.03 -2.67 L14.70 -6.01 L14.70 -8.02 L14.03 -11.36 L12.69 -13.36 L10.69 -14.03 L9.35 -14.03" fill="none" stroke="#000" stroke-width="1.40" stroke-linecap="round" stroke-linejoin="round"/>
<path transform="translate(966.60 544.90)" d="M-8.02 -14.03 L-14.70 -4.68 L-4.68 -4.68 M-8.02 -14.03 L-8.02 0.00 M0.00 -1.34 L-0.67 -0.67 L0.00 0.00 L0.67 -0.67 L0.00 -1.34 M9.35 -14.03 L7.35 -13.36 L6.01 -11.36 L5.34 -8.02 L5.34 -6.01 L6.01 -2.67 L7.35 -0.67 L9.35 0.00 L10.69 0.00 L12.69 -0.67 L14.03 -2.67 L14.70 -6.01 L14.70 -8.02 L14.03 -11.36 L12.69 -13.36 L10.69 -14.03 L9.35 -14.03" fill="none" stroke="#000" stroke-width="1.40" stroke-linecap="round" stroke-linejoin="round"/>
<path transform="translate(1037.00 544.90)" d="M-6.68 -14.03 L-13.36 -14.03 L-14.03 -8.02 L-13.36 -8.68 L-11.36 -9.35 L-9.35 -9.35 L-7.35 -8.68 L-6.01 -7.35 L-5.34 -5.34 L-5.34 -4.01 L-6.01 -2.00 L-7.35 -0.67 L-9.35 0.00 L-11.36 0.00 L-13.36 -0.67 L-14.03 -1.34 L-14.70 -2.67 M0.00 -1.34 L-0.67 -0.67 L0.00 0.00 L0.67 -0.67 L0.00 -1.34 M9.35 -14.03 L7.35 -13.36 L6.01 -11.36 L5.34 -8.02 L5.34 -6.01 L6.01 -2.67 L7.35 -0.67 L9.35 0.00 L10.69 0.00 L12.69 -0.67 L14.03 -2.67 L14.70 -6.01 L14.70 -8.02 L14.03 -11.36 L12.69 -13.36 L10.69 -14.03 L9.35 -14.03" fill="none" stroke="#000" stroke-width="1.40" stroke-linecap="round" stroke-linejoin="round"/>
<path transform="translate(1107.40 544.90)" d="M-6.35 -12.02 L-7.01 -13.36 L-9.02 -14.03 L-10.35 -14.03 L-12.36 -13.36 L-13.69 -11.36 L-14.36 -8.02 L-14.36 -4.68 L-13.69 -2.00 L-12.36 -0.67 L-10.35 0.00 L-9.69 0.00 L-7.68 -0.67 L-6.35 -2.00 L-5.68 -4.01 L-5.68 -4.68 L-6.35 -6.68 L-7.68 -8.02 L-9.69 -8.68 L-10.35 -8.68 L-12.36 -8.02 L-13.69 -6.68 L-14.36 -4.68 M-0.33 -1.34 L-1.00 -0.67 L-0.33 0.00 L0.33 -0.67 L-0.33 -1.34 M9.02 -14.03 L7.01 -13.36 L5.68 -11.36 L5.01 -8.02 L5.01 -6.01 L5.68 -2.67 L7.01 -0.67 L9.02 0.00 L10.35 0.00 L12.36 -0.67 L13.69 -2.67 L14.36 -6.01 L14.36 -8.02 L13.69 -11.36 L12.36 -13.36 L10.35 -14.03 L9.02 -14.03" fill="none" stroke="#000" stroke-width="1.40" stroke-linecap="round" stroke-linejoin="round"/>
<path transform="translate(684.80 70.90)" d="M5.92 -15.54 L0.00 0.00 M5.92 -15.54 L11.84 0.00 M2.22 -5.18 L9.62 -5.18 M15.54 -15.54 L15.54 0.00 M15.54 -15.54 L22.20 -15.54 L24.42 -14.80 L25.16 -14.06 L25.90 -12.58 L25.90 -10.36 L25.16 -8.88 L24.42 -8.14 L22.20 -7.40 L15.54 -7.40 M31.08 -15.54 L31.08 0.00 M31.08 -15.54 L37.74 -15.54 L39.96 -14.80 L40.70 -14.06 L41.44 -12.58 L41.44 -11.10 L40.70 -9.62 L39.96 -8.88 L37.74 -8.14 L31.08 -8.14 M36.26 -8.14 L41.44 0.00" fill="none" stroke="#000" stroke-width="1.30" stroke-linecap="round" stroke-linejoin="round"/>
<path transform="translate(896.35 578.90)" d="M-149.57 -15.23 L-151.26 -16.92 L-153.80 -17.77 L-157.19 -17.77 L-159.72 -16.92 L-161.42 -15.23 L-161.42 -13.54 L-160.57 -11.84 L-159.72 -11.00 L-158.03 -10.15 L-152.96 -8.46 L-151.26 -7.61 L-150.42 -6.77 L-149.57 -5.08 L-149.57 -2.54 L-151.26 -0.85 L-153.80 0.00 L-157.19 0.00 L-159.72 -0.85 L-161.42 -2.54 M-143.65 -11.84 L-143.65 5.92 M-143.65 -9.31 L-141.96 -11.00 L-140.27 -11.84 L-137.73 -11.84 L-136.04 -11.00 L-134.34 -9.31 L-133.50 -6.77 L-133.50 -5.08 L-134.34 -2.54 L-136.04 -0.85 L-137.73 0.00 L-140.27 0.00 L-141.96 -0.85 L-143.65 -2.54 M-128.42 -6.77 L-118.27 -6.77 L-118.27 -8.46 L-119.12 -10.15 L-119.96 -11.00 L-121.65 -11.84 L-124.19 -11.84 L-125.88 -11.00 L-127.58 -9.31 L-128.42 -6.77 L-128.42 -5.08 L-127.58 -2.54 L-125.88 -0.85 L-124.19 0.00 L-121.65 0.00 L-119.96 -0.85 L-118.27 -2.54 M-103.04 -9.31 L-104.73 -11.00 L-106.43 -11.84 L-108.96 -11.84 L-110.66 -11.00 L-112.35 -9.31 L-113.19 -6.77 L-113.19 -5.08 L-112.35 -2.54 L-110.66 -0.85 L-108.96 0.00 L-106.43 0.00 L-104.73 -0.85 L-103.04 -2.54 M-97.97 -17.77 L-97.12 -16.92 L-96.27 -17.77 L-97.12 -18.61 L-97.97 -17.77 M-97.12 -11.84 L-97.12 0.00 M-85.28 -17.77 L-86.97 -17.77 L-88.66 -16.92 L-89.51 -14.38 L-89.51 0.00 M-92.04 -11.84 L-86.12 -11.84 M-81.05 -17.77 L-80.20 -16.92 L-79.35 -17.77 L-80.20 -18.61 L-81.05 -17.77 M-80.20 -11.84 L-80.20 0.00 M-64.13 -9.31 L-65.82 -11.00 L-67.51 -11.84 L-70.05 -11.84 L-71.74 -11.00 L-73.43 -9.31 L-74.28 -6.77 L-74.28 -5.08 L-73.43 -2.54 L-71.74 -0.85 L-70.05 0.00 L-67.51 0.00 L-65.82 -0.85 L-64.13 -2.54 M-46.11 -17.77 L-46.11 0.00 M-34.26 -17.77 L-34.26 0.00 M-46.11 -9.31 L-34.26 -9.31 M-27.49 -11.84 L-27.49 -3.38 L-26.65 -0.85 L-24.96 0.00 L-22.42 0.00 L-20.73 -0.85 L-18.19 -3.38 M-18.19 -11.84 L-18.19 0.00 M-11.42 -11.84 L-11.42 0.00 M-11.42 -8.46 L-8.88 -11.00 L-7.19 -11.84 L-4.65 -11.84 L-2.96 -11.00 L-2.11 -8.46 L-2.11 0.00 M-2.11 -8.46 L0.42 -11.00 L2.11 -11.84 L4.65 -11.84 L6.34 -11.00 L7.19 -8.46 L7.19 0.00 M13.11 -17.77 L13.96 -16.92 L14.80 -17.77 L13.96 -18.61 L13.11 -17.77 M13.96 -11.84 L13.96 0.00 M30.03 -17.77 L30.03 0.00 M30.03 -9.31 L28.34 -11.00 L26.65 -11.84 L24.11 -11.84 L22.42 -11.00 L20.73 -9.31 L19.88 -6.77 L19.88 -5.08 L20.73 -2.54 L22.42 -0.85 L24.11 0.00 L26.65 0.00 L28.34 -0.85 L30.03 -2.54 M35.95 -17.77 L36.80 -16.92 L37.65 -17.77 L36.80 -18.61 L35.95 -17.77 M36.80 -11.84 L36.80 0.00 M44.41 -17.77 L44.41 -3.38 L45.26 -0.85 L46.95 0.00 L48.64 0.00 M41.88 -11.84 L47.80 -11.84 M52.03 -11.84 L57.10 0.00 M62.18 -11.84 L57.10 0.00 L55.41 3.38 L53.72 5.08 L52.03 5.92 L51.18 5.92 M85.28 -21.15 L83.58 -19.46 L81.89 -16.92 L80.20 -13.54 L79.35 -9.31 L79.35 -5.92 L80.20 -1.69 L81.89 1.69 L83.58 4.23 L85.28 5.92 M100.50 -11.84 L100.50 1.69 L99.66 4.23 L98.81 5.08 L97.12 5.92 L94.58 5.92 L92.89 5.08 M100.50 -9.31 L98.81 -11.00 L97.12 -11.84 L94.58 -11.84 L92.89 -11.00 L91.20 -9.31 L90.35 -6.77 L90.35 -5.08 L91.20 -2.54 L92.89 -0.85 L94.58 0.00 L97.12 0.00 L98.81 -0.85 L100.50 -2.54 M120.81 -21.15 L105.58 5.92 M125.88 -17.77 L125.88 0.00 M134.34 -11.84 L125.88 -3.38 M129.27 -6.77 L135.19 0.00 M149.57 -11.84 L149.57 1.69 L148.73 4.23 L147.88 5.08 L146.19 5.92 L143.65 5.92 L141.96 5.08 M149.57 -9.31 L147.88 -11.00 L146.19 -11.84 L143.65 -11.84 L141.96 -11.00 L140.27 -9.31 L139.42 -6.77 L139.42 -5.08 L140.27 -2.54 L141.96 -0.85 L143.65 0.00 L146.19 0.00 L147.88 -0.85 L149.57 -2.54 M155.49 -21.15 L157.19 -19.46 L158.88 -16.92 L160.57 -13.54 L161.42 -9.31 L161.42 -5.92 L160.57 -1.69 L158.88 1.69 L157.19 4.23 L155.49 5.92" fill="none" stroke="#000" stroke-width="1.45" stroke-linecap="round" stroke-linejoin="round"/>
<rect x="125.00" y="623.90" width="422.40" height="422.20" fill="none" stroke="#000" stroke-width="2.30"/>
<path d="M125.00 623.90 V613.40 M125.00 1046.10 V1056.60 M209.48 623.90 V613.40 M209.48 1046.10 V1056.60 M293.96 623.90 V613.40 M293.96 1046.10 V1056.60 M378.44 623.90 V613.40 M378.44 1046.10 V1056.60 M462.92 623.90 V613.40 M462.92 1046.10 V1056.60 M547.40 623.90 V613.40 M547.40 1046.10 V1056.60 M125.00 623.90 H114.50 M547.40 623.90 H557.90 M125.00 726.25 H114.50 M547.40 726.25 H557.90 M125.00 828.60 H114.50 M547.40 828.60 H557.90 M125.00 930.95 H114.50 M547.40 930.95 H557.90 M125.00 1033.30 H114.50 M547.40 1033.30 H557.90" stroke="#000" stroke-width="2.30" stroke-linecap="round" fill="none"/>
<path d="M146.12 623.90 V618.90 M146.12 1046.10 V1051.10 M167.24 623.90 V618.90 M167.24 1046.10 V1051.10 M188.36 623.90 V618.90 M188.36 1046.10 V1051.10 M230.60 623.90 V618.90 M230.60 1046.10 V1051.10 M251.72 623.90 V618.90 M251.72 1046.10 V1051.10 M272.84 623.90 V618.90 M272.84 1046.10 V1051.10 M315.08 623.90 V618.90 M315.08 1046.10 V1051.10 M336.20 623.90 V618.90 M336.20 1046.10 V1051.10 M357.32 623.90 V618.90 M357.32 1046.10 V1051.10 M399.56 623.90 V618.90 M399.56 1046.10 V1051.10 M420.68 623.90 V618.90 M420.68 1046.10 V1051.10 M441.80 623.90 V618.90 M441.80 1046.10 V1051.10 M484.04 623.90 V618.90 M484.04 1046.10 V1051.10 M505.16 623.90 V618.90 M505.16 1046.10 V1051.10 M526.28 623.90 V618.90 M526.28 1046.10 V1051.10 M125.00 649.49 H120.00 M547.40 649.49 H552.40 M125.00 675.07 H120.00 M547.40 675.07 H552.40 M125.00 700.66 H120.00 M547.40 700.66 H552.40 M125.00 751.84 H120.00 M547.40 751.84 H552.40 M125.00 777.42 H120.00 M547.40 777.42 H552.40 M125.00 803.01 H120.00 M547.40 803.01 H552.40 M125.00 854.19 H120.00 M547.40 854.19 H552.40 M125.00 879.77 H120.00 M547.40 879.77 H552.40 M125.00 905.36 H120.00 M547.40 905.36 H552.40 M125.00 956.54 H120.00 M547.40 956.54 H552.40 M125.00 982.12 H120.00 M547.40 982.12 H552.40 M125.00 1007.71 H120.00 M547.40 1007.71 H552.40" stroke="#000" stroke-width="1.30" stroke-linecap="round" fill="none"/>
<path transform="translate(100.20 631.00)" d="M-35.40 -10.69 L-35.40 -11.36 L-34.74 -12.69 L-34.07 -13.36 L-32.73 -14.03 L-30.06 -14.03 L-28.72 -13.36 L-28.06 -12.69 L-27.39 -11.36 L-27.39 -10.02 L-28.06 -8.68 L-29.39 -6.68 L-36.07 0.00 L-26.72 0.00 M-18.70 -14.03 L-20.71 -13.36 L-22.04 -11.36 L-22.71 -8.02 L-22.71 -6.01 L-22.04 -2.67 L-20.71 -0.67 L-18.70 0.00 L-17.37 0.00 L-15.36 -0.67 L-14.03 -2.67 L-13.36 -6.01 L-13.36 -8.02 L-14.03 -11.36 L-15.36 -13.36 L-17.37 -14.03 L-18.70 -14.03 M-5.34 -14.03 L-7.35 -13.36 L-8.68 -11.36 L-9.35 -8.02 L-9.35 -6.01 L-8.68 -2.67 L-7.35 -0.67 L-5.34 0.00 L-4.01 0.00 L-2.00 -0.67 L-0.67 -2.67 L0.00 -6.01 L0.00 -8.02 L-0.67 -11.36 L-2.00 -13.36 L-4.01 -14.03 L-5.34 -14.03" fill="none" stroke="#000" stroke-width="1.40" stroke-linecap="round" stroke-linejoin="round"/>
<path transform="translate(100.20 733.35)" d="M-29.39 -14.03 L-36.07 -4.68 L-26.05 -4.68 M-29.39 -14.03 L-29.39 0.00 M-18.70 -14.03 L-20.71 -13.36 L-22.04 -11.36 L-22.71 -8.02 L-22.71 -6.01 L-22.04 -2.67 L-20.71 -0.67 L-18.70 0.00 L-17.37 0.00 L-15.36 -0.67 L-14.03 -2.67 L-13.36 -6.01 L-13.36 -8.02 L-14.03 -11.36 L-15.36 -13.36 L-17.37 -14.03 L-18.70 -14.03 M-5.34 -14.03 L-7.35 -13.36 L-8.68 -11.36 L-9.35 -8.02 L-9.35 -6.01 L-8.68 -2.67 L-7.35 -0.67 L-5.34 0.00 L-4.01 0.00 L-2.00 -0.67 L-0.67 -2.67 L0.00 -6.01 L0.00 -8.02 L-0.67 -11.36 L-2.00 -13.36 L-4.01 -14.03 L-5.34 -14.03" fill="none" stroke="#000" stroke-width="1.40" stroke-linecap="round" stroke-linejoin="round"/>
<path transform="translate(100.20 835.70)" d="M-27.39 -12.02 L-28.06 -13.36 L-30.06 -14.03 L-31.40 -14.03 L-33.40 -13.36 L-34.74 -11.36 L-35.40 -8.02 L-35.40 -4.68 L-34.74 -2.00 L-33.40 -0.67 L-31.40 0.00 L-30.73 0.00 L-28.72 -0.67 L-27.39 -2.00 L-26.72 -4.01 L-26.72 -4.68 L-27.39 -6.68 L-28.72 -8.02 L-30.73 -8.68 L-31.40 -8.68 L-33.40 -8.02 L-34.74 -6.68 L-35.40 -4.68 M-18.70 -14.03 L-20.71 -13.36 L-22.04 -11.36 L-22.71 -8.02 L-22.71 -6.01 L-22.04 -2.67 L-20.71 -0.67 L-18.70 0.00 L-17.37 0.00 L-15.36 -0.67 L-14.03 -2.67 L-13.36 -6.01 L-13.36 -8.02 L-14.03 -11.36 L-15.36 -13.36 L-17.37 -14.03 L-18.70 -14.03 M-5.34 -14.03 L-7.35 -13.36 L-8.68 -11.36 L-9.35 -8.02 L-9.35 -6.01 L-8.68 -2.67 L-7.35 -0.67 L-5.34 0.00 L-4.01 0.00 L-2.00 -0.67 L-0.67 -2.67 L0.00 -6.01 L0.00 -8.02 L-0.67 -11.36 L-2.00 -13.36 L-4.01 -14.03 L-5.34 -14.03" fill="none" stroke="#000" stroke-width="1.40" stroke-linecap="round" stroke-linejoin="round"/>
<path transform="translate(100.20 938.05)" d="M-32.73 -14.03 L-34.74 -13.36 L-35.40 -12.02 L-35.40 -10.69 L-34.74 -9.35 L-33.40 -8.68 L-30.73 -8.02 L-28.72 -7.35 L-27.39 -6.01 L-26.72 -4.68 L-26.72 -2.67 L-27.39 -1.34 L-28.06 -0.67 L-30.06 0.00 L-32.73 0.00 L-34.74 -0.67 L-35.40 -1.34 L-36.07 -2.67 L-36.07 -4.68 L-35.40 -6.01 L-34.07 -7.35 L-32.06 -8.02 L-29.39 -8.68 L-28.06 -9.35 L-27.39 -10.69 L-27.39 -12.02 L-28.06 -13.36 L-30.06 -14.03 L-32.73 -14.03 M-18.70 -14.03 L-20.71 -13.36 L-22.04 -11.36 L-22.71 -8.02 L-22.71 -6.01 L-22.04 -2.67 L-20.71 -0.67 L-18.70 0.00 L-17.37 0.00 L-15.36 -0.67 L-14.03 -2.67 L-13.36 -6.01 L-13.36 -8.02 L-14.03 -11.36 L-15.36 -13.36 L-17.37 -14.03 L-18.70 -14.03 M-5.34 -14.03 L-7.35 -13.36 L-8.68 -11.36 L-9.35 -8.02 L-9.35 -6.01 L-8.68 -2.67 L-7.35 -0.67 L-5.34 0.00 L-4.01 0.00 L-2.00 -0.67 L-0.67 -2.67 L0.00 -6.01 L0.00 -8.02 L-0.67 -11.36 L-2.00 -13.36 L-4.01 -14.03 L-5.34 -14.03" fill="none" stroke="#000" stroke-width="1.40" stroke-linecap="round" stroke-linejoin="round"/>
<path transform="translate(100.20 1040.40)" d="M-47.43 -11.36 L-46.09 -12.02 L-44.09 -14.03 L-44.09 0.00 M-32.06 -14.03 L-34.07 -13.36 L-35.40 -11.36 L-36.07 -8.02 L-36.07 -6.01 L-35.40 -2.67 L-34.07 -0.67 L-32.06 0.00 L-30.73 0.00 L-28.72 -0.67 L-27.39 -2.67 L-26.72 -6.01 L-26.72 -8.02 L-27.39 -11.36 L-28.72 -13.36 L-30.73 -14.03 L-32.06 -14.03 M-18.70 -14.03 L-20.71 -13.36 L-22.04 -11.36 L-22.71 -8.02 L-22.71 -6.01 L-22.04 -2.67 L-20.71 -0.67 L-18.70 0.00 L-17.37 0.00 L-15.36 -0.67 L-14.03 -2.67 L-13.36 -6.01 L-13.36 -8.02 L-14.03 -11.36 L-15.36 -13.36 L-17.37 -14.03 L-18.70 -14.03 M-5.34 -14.03 L-7.35 -13.36 L-8.68 -11.36 L-9.35 -8.02 L-9.35 -6.01 L-8.68 -2.67 L-7.35 -0.67 L-5.34 0.00 L-4.01 0.00 L-2.00 -0.67 L-0.67 -2.67 L0.00 -6.01 L0.00 -8.02 L-0.67 -11.36 L-2.00 -13.36 L-4.01 -14.03 L-5.34 -14.03" fill="none" stroke="#000" stroke-width="1.40" stroke-linecap="round" stroke-linejoin="round"/>
<path transform="translate(125.00 1084.90)" d="M-0.67 -14.03 L-2.67 -13.36 L-4.01 -11.36 L-4.68 -8.02 L-4.68 -6.01 L-4.01 -2.67 L-2.67 -0.67 L-0.67 0.00 L0.67 0.00 L2.67 -0.67 L4.01 -2.67 L4.68 -6.01 L4.68 -8.02 L4.01 -11.36 L2.67 -13.36 L0.67 -14.03 L-0.67 -14.03" fill="none" stroke="#000" stroke-width="1.40" stroke-linecap="round" stroke-linejoin="round"/>
<path transform="translate(209.48 1084.90)" d="M-4.01 -10.69 L-4.01 -11.36 L-3.34 -12.69 L-2.67 -13.36 L-1.34 -14.03 L1.34 -14.03 L2.67 -13.36 L3.34 -12.69 L4.01 -11.36 L4.01 -10.02 L3.34 -8.68 L2.00 -6.68 L-4.68 0.00 L4.68 0.00" fill="none" stroke="#000" stroke-width="1.40" stroke-linecap="round" stroke-linejoin="round"/>
<path transform="translate(293.96 1084.90)" d="M1.67 -14.03 L-5.01 -4.68 L5.01 -4.68 M1.67 -14.03 L1.67 0.00" fill="none" stroke="#000" stroke-width="1.40" stroke-linecap="round" stroke-linejoin="round"/>
<path transform="translate(378.44 1084.90)" d="M3.67 -12.02 L3.01 -13.36 L1.00 -14.03 L-0.33 -14.03 L-2.34 -13.36 L-3.67 -11.36 L-4.34 -8.02 L-4.34 -4.68 L-3.67 -2.00 L-2.34 -0.67 L-0.33 0.00 L0.33 0.00 L2.34 -0.67 L3.67 -2.00 L4.34 -4.01 L4.34 -4.68 L3.67 -6.68 L2.34 -8.02 L0.33 -8.68 L-0.33 -8.68 L-2.34 -8.02 L-3.67 -6.68 L-4.34 -4.68" fill="none" stroke="#000" stroke-width="1.40" stroke-linecap="round" stroke-linejoin="round"/>
<path transform="translate(462.92 1084.90)" d="M-1.34 -14.03 L-3.34 -13.36 L-4.01 -12.02 L-4.01 -10.69 L-3.34 -9.35 L-2.00 -8.68 L0.67 -8.02 L2.67 -7.35 L4.01 -6.01 L4.68 -4.68 L4.68 -2.67 L4.01 -1.34 L3.34 -0.67 L1.34 0.00 L-1.34 0.00 L-3.34 -0.67 L-4.01 -1.34 L-4.68 -2.67 L-4.68 -4.68 L-4.01 -6.01 L-2.67 -7.35 L-0.67 -8.02 L2.00 -8.68 L3.34 -9.35 L4.01 -10.69 L4.01 -12.02 L3.34 -13.36 L1.34 -14.03 L-1.34 -14.03" fill="none" stroke="#000" stroke-width="1.40" stroke-linecap="round" stroke-linejoin="round"/>
<path transform="translate(547.40 1084.90)" d="M-10.35 -11.36 L-9.02 -12.02 L-7.01 -14.03 L-7.01 0.00 M5.01 -14.03 L3.01 -13.36 L1.67 -11.36 L1.00 -8.02 L1.00 -6.01 L1.67 -2.67 L3.01 -0.67 L5.01 0.00 L6.35 0.00 L8.35 -0.67 L9.69 -2.67 L10.35 -6.01 L10.35 -8.02 L9.69 -11.36 L8.35 -13.36 L6.35 -14.03 L5.01 -14.03" fill="none" stroke="#000" stroke-width="1.40" stroke-linecap="round" stroke-linejoin="round"/>
<path transform="translate(124.80 610.90)" d="M7.40 -15.54 L7.40 -3.70 L6.66 -1.48 L5.92 -0.74 L4.44 0.00 L2.96 0.00 L1.48 -0.74 L0.74 -1.48 L0.00 -3.70 L0.00 -5.18 M13.32 -15.54 L13.32 -4.44 L14.06 -2.22 L15.54 -0.74 L17.76 0.00 L19.24 0.00 L21.46 -0.74 L22.94 -2.22 L23.68 -4.44 L23.68 -15.54 M29.60 -15.54 L29.60 0.00 M29.60 0.00 L38.48 0.00" fill="none" stroke="#000" stroke-width="1.30" stroke-linecap="round" stroke-linejoin="round"/>
<path transform="translate(336.35 1118.90)" d="M-149.57 -15.23 L-151.26 -16.92 L-153.80 -17.77 L-157.19 -17.77 L-159.72 -16.92 L-161.42 -15.23 L-161.42 -13.54 L-160.57 -11.84 L-159.72 -11.00 L-158.03 -10.15 L-152.96 -8.46 L-151.26 -7.61 L-150.42 -6.77 L-149.57 -5.08 L-149.57 -2.54 L-151.26 -0.85 L-153.80 0.00 L-157.19 0.00 L-159.72 -0.85 L-161.42 -2.54 M-143.65 -11.84 L-143.65 5.92 M-143.65 -9.31 L-141.96 -11.00 L-140.27 -11.84 L-137.73 -11.84 L-136.04 -11.00 L-134.34 -9.31 L-133.50 -6.77 L-133.50 -5.08 L-134.34 -2.54 L-136.04 -0.85 L-137.73 0.00 L-140.27 0.00 L-141.96 -0.85 L-143.65 -2.54 M-128.42 -6.77 L-118.27 -6.77 L-118.27 -8.46 L-119.12 -10.15 L-119.96 -11.00 L-121.65 -11.84 L-124.19 -11.84 L-125.88 -11.00 L-127.58 -9.31 L-128.42 -6.77 L-128.42 -5.08 L-127.58 -2.54 L-125.88 -0.85 L-124.19 0.00 L-121.65 0.00 L-119.96 -0.85 L-118.27 -2.54 M-103.04 -9.31 L-104.73 -11.00 L-106.43 -11.84 L-108.96 -11.84 L-110.66 -11.00 L-112.35 -9.31 L-113.19 -6.77 L-113.19 -5.08 L-112.35 -2.54 L-110.66 -0.85 L-108.96 0.00 L-106.43 0.00 L-104.73 -0.85 L-103.04 -2.54 M-97.97 -17.77 L-97.12 -16.92 L-96.27 -17.77 L-97.12 -18.61 L-97.97 -17.77 M-97.12 -11.84 L-97.12 0.00 M-85.28 -17.77 L-86.97 -17.77 L-88.66 -16.92 L-89.51 -14.38 L-89.51 0.00 M-92.04 -11.84 L-86.12 -11.84 M-81.05 -17.77 L-80.20 -16.92 L-79.35 -17.77 L-80.20 -18.61 L-81.05 -17.77 M-80.20 -11.84 L-80.20 0.00 M-64.13 -9.31 L-65.82 -11.00 L-67.51 -11.84 L-70.05 -11.84 L-71.74 -11.00 L-73.43 -9.31 L-74.28 -6.77 L-74.28 -5.08 L-73.43 -2.54 L-71.74 -0.85 L-70.05 0.00 L-67.51 0.00 L-65.82 -0.85 L-64.13 -2.54 M-46.11 -17.77 L-46.11 0.00 M-34.26 -17.77 L-34.26 0.00 M-46.11 -9.31 L-34.26 -9.31 M-27.49 -11.84 L-27.49 -3.38 L-26.65 -0.85 L-24.96 0.00 L-22.42 0.00 L-20.73 -0.85 L-18.19 -3.38 M-18.19 -11.84 L-18.19 0.00 M-11.42 -11.84 L-11.42 0.00 M-11.42 -8.46 L-8.88 -11.00 L-7.19 -11.84 L-4.65 -11.84 L-2.96 -11.00 L-2.11 -8.46 L-2.11 0.00 M-2.11 -8.46 L0.42 -11.00 L2.11 -11.84 L4.65 -11.84 L6.34 -11.00 L7.19 -8.46 L7.19 0.00 M13.11 -17.77 L13.96 -16.92 L14.80 -17.77 L13.96 -18.61 L13.11 -17.77 M13.96 -11.84 L13.96 0.00 M30.03 -17.77 L30.03 0.00 M30.03 -9.31 L28.34 -11.00 L26.65 -11.84 L24.11 -11.84 L22.42 -11.00 L20.73 -9.31 L19.88 -6.77 L19.88 -5.08 L20.73 -2.54 L22.42 -0.85 L24.11 0.00 L26.65 0.00 L28.34 -0.85 L30.03 -2.54 M35.95 -17.77 L36.80 -16.92 L37.65 -17.77 L36.80 -18.61 L35.95 -17.77 M36.80 -11.84 L36.80 0.00 M44.41 -17.77 L44.41 -3.38 L45.26 -0.85 L46.95 0.00 L48.64 0.00 M41.88 -11.84 L47.80 -11.84 M52.03 -11.84 L57.10 0.00 M62.18 -11.84 L57.10 0.00 L55.41 3.38 L53.72 5.08 L52.03 5.92 L51.18 5.92 M85.28 -21.15 L83.58 -19.46 L81.89 -16.92 L80.20 -13.54 L79.35 -9.31 L79.35 -5.92 L80.20 -1.69 L81.89 1.69 L83.58 4.23 L85.28 5.92 M100.50 -11.84 L100.50 1.69 L99.66 4.23 L98.81 5.08 L97.12 5.92 L94.58 5.92 L92.89 5.08 M100.50 -9.31 L98.81 -11.00 L97.12 -11.84 L94.58 -11.84 L92.89 -11.00 L91.20 -9.31 L90.35 -6.77 L90.35 -5.08 L91.20 -2.54 L92.89 -0.85 L94.58 0.00 L97.12 0.00 L98.81 -0.85 L100.50 -2.54 M120.81 -21.15 L105.58 5.92 M125.88 -17.77 L125.88 0.00 M134.34 -11.84 L125.88 -3.38 M129.27 -6.77 L135.19 0.00 M149.57 -11.84 L149.57 1.69 L148.73 4.23 L147.88 5.08 L146.19 5.92 L143.65 5.92 L141.96 5.08 M149.57 -9.31 L147.88 -11.00 L146.19 -11.84 L143.65 -11.84 L141.96 -11.00 L140.27 -9.31 L139.42 -6.77 L139.42 -5.08 L140.27 -2.54 L141.96 -0.85 L143.65 0.00 L146.19 0.00 L147.88 -0.85 L149.57 -2.54 M155.49 -21.15 L157.19 -19.46 L158.88 -16.92 L160.57 -13.54 L161.42 -9.31 L161.42 -5.92 L160.57 -1.69 L158.88 1.69 L157.19 4.23 L155.49 5.92" fill="none" stroke="#000" stroke-width="1.45" stroke-linecap="round" stroke-linejoin="round"/>
<path transform="translate(33.50 835.40) rotate(-90)" d="M-92.76 -17.77 L-92.76 0.00 M-92.76 -17.77 L-85.15 -17.77 L-82.61 -16.92 L-81.77 -16.07 L-80.92 -14.38 L-80.92 -11.84 L-81.77 -10.15 L-82.61 -9.31 L-85.15 -8.46 L-92.76 -8.46 M-75.00 -11.84 L-75.00 0.00 M-75.00 -6.77 L-74.15 -9.31 L-72.46 -11.00 L-70.77 -11.84 L-68.23 -11.84 M-64.85 -6.77 L-54.69 -6.77 L-54.69 -8.46 L-55.54 -10.15 L-56.39 -11.00 L-58.08 -11.84 L-60.62 -11.84 L-62.31 -11.00 L-64.00 -9.31 L-64.85 -6.77 L-64.85 -5.08 L-64.00 -2.54 L-62.31 -0.85 L-60.62 0.00 L-58.08 0.00 L-56.39 -0.85 L-54.69 -2.54 M-40.31 -9.31 L-41.16 -11.00 L-43.70 -11.84 L-46.23 -11.84 L-48.77 -11.00 L-49.62 -9.31 L-48.77 -7.61 L-47.08 -6.77 L-42.85 -5.92 L-41.16 -5.08 L-40.31 -3.38 L-40.31 -2.54 L-41.16 -0.85 L-43.70 0.00 L-46.23 0.00 L-48.77 -0.85 L-49.62 -2.54 M-25.93 -9.31 L-26.78 -11.00 L-29.31 -11.84 L-31.85 -11.84 L-34.39 -11.00 L-35.24 -9.31 L-34.39 -7.61 L-32.70 -6.77 L-28.47 -5.92 L-26.78 -5.08 L-25.93 -3.38 L-25.93 -2.54 L-26.78 -0.85 L-29.31 0.00 L-31.85 0.00 L-34.39 -0.85 L-35.24 -2.54 M-20.01 -11.84 L-20.01 -3.38 L-19.16 -0.85 L-17.47 0.00 L-14.93 0.00 L-13.24 -0.85 L-10.70 -3.38 M-10.70 -11.84 L-10.70 0.00 M-3.93 -11.84 L-3.93 0.00 M-3.93 -6.77 L-3.09 -9.31 L-1.40 -11.00 L0.30 -11.84 L2.83 -11.84 M6.22 -6.77 L16.37 -6.77 L16.37 -8.46 L15.52 -10.15 L14.68 -11.00 L12.99 -11.84 L10.45 -11.84 L8.76 -11.00 L7.06 -9.31 L6.22 -6.77 L6.22 -5.08 L7.06 -2.54 L8.76 -0.85 L10.45 0.00 L12.99 0.00 L14.68 -0.85 L16.37 -2.54 M40.31 -21.15 L38.62 -19.46 L36.93 -16.92 L35.24 -13.54 L34.39 -9.31 L34.39 -5.92 L35.24 -1.69 L36.93 1.69 L38.62 4.23 L40.31 5.92 M46.23 -11.84 L46.23 0.00 M46.23 -8.46 L48.77 -11.00 L50.46 -11.84 L53.00 -11.84 L54.69 -11.00 L55.54 -8.46 L55.54 0.00 M55.54 -8.46 L58.08 -11.00 L59.77 -11.84 L62.31 -11.84 L64.00 -11.00 L64.85 -8.46 L64.85 0.00 M71.61 -17.77 L71.61 0.00 M71.61 -9.31 L73.31 -11.00 L75.00 -11.84 L77.54 -11.84 L79.23 -11.00 L80.92 -9.31 L81.77 -6.77 L81.77 -5.08 L80.92 -2.54 L79.23 -0.85 L77.54 0.00 L75.00 0.00 L73.31 -0.85 L71.61 -2.54 M86.84 -21.15 L88.53 -19.46 L90.23 -16.92 L91.92 -13.54 L92.76 -9.31 L92.76 -5.92 L91.92 -1.69 L90.23 1.69 L88.53 4.23 L86.84 5.92" fill="none" stroke="#000" stroke-width="1.45" stroke-linecap="round" stroke-linejoin="round"/>
<rect x="685.00" y="623.90" width="422.40" height="422.20" fill="none" stroke="#000" stroke-width="2.30"/>
<path d="M685.00 623.90 V613.40 M685.00 1046.10 V1056.60 M745.34 623.90 V613.40 M745.34 1046.10 V1056.60 M805.69 623.90 V613.40 M805.69 1046.10 V1056.60 M866.03 623.90 V613.40 M866.03 1046.10 V1056.60 M926.37 623.90 V613.40 M926.37 1046.10 V1056.60 M986.71 623.90 V613.40 M986.71 1046.10 V1056.60 M1047.06 623.90 V613.40 M1047.06 1046.10 V1056.60 M1107.40 623.90 V613.40 M1107.40 1046.10 V1056.60 M685.00 623.90 H674.50 M1107.40 623.90 H1117.90 M685.00 726.25 H674.50 M1107.40 726.25 H1117.90 M685.00 828.60 H674.50 M1107.40 828.60 H1117.90 M685.00 930.95 H674.50 M1107.40 930.95 H1117.90 M685.00 1033.30 H674.50 M1107.40 1033.30 H1117.90" stroke="#000" stroke-width="2.30" stroke-linecap="round" fill="none"/>
<path d="M697.07 623.90 V618.90 M697.07 1046.10 V1051.10 M709.14 623.90 V618.90 M709.14 1046.10 V1051.10 M721.21 623.90 V618.90 M721.21 1046.10 V1051.10 M733.27 623.90 V618.90 M733.27 1046.10 V1051.10 M757.41 623.90 V618.90 M757.41 1046.10 V1051.10 M769.48 623.90 V618.90 M769.48 1046.10 V1051.10 M781.55 623.90 V618.90 M781.55 1046.10 V1051.10 M793.62 623.90 V618.90 M793.62 1046.10 V1051.10 M817.75 623.90 V618.90 M817.75 1046.10 V1051.10 M829.82 623.90 V618.90 M829.82 1046.10 V1051.10 M841.89 623.90 V618.90 M841.89 1046.10 V1051.10 M853.96 623.90 V618.90 M853.96 1046.10 V1051.10 M878.10 623.90 V618.90 M878.10 1046.10 V1051.10 M890.17 623.90 V618.90 M890.17 1046.10 V1051.10 M902.23 623.90 V618.90 M902.23 1046.10 V1051.10 M914.30 623.90 V618.90 M914.30 1046.10 V1051.10 M938.44 623.90 V618.90 M938.44 1046.10 V1051.10 M950.51 623.90 V618.90 M950.51 1046.10 V1051.10 M962.58 623.90 V618.90 M962.58 1046.10 V1051.10 M974.65 623.90 V618.90 M974.65 1046.10 V1051.10 M998.78 623.90 V618.90 M998.78 1046.10 V1051.10 M1010.85 623.90 V618.90 M1010.85 1046.10 V1051.10 M1022.92 623.90 V618.90 M1022.92 1046.10 V1051.10 M1034.99 623.90 V618.90 M1034.99 1046.10 V1051.10 M1059.13 623.90 V618.90 M1059.13 1046.10 V1051.10 M1071.19 623.90 V618.90 M1071.19 1046.10 V1051.10 M1083.26 623.90 V618.90 M1083.26 1046.10 V1051.10 M1095.33 623.90 V618.90 M1095.33 1046.10 V1051.10 M685.00 649.49 H680.00 M1107.40 649.49 H1112.40 M685.00 675.07 H680.00 M1107.40 675.07 H1112.40 M685.00 700.66 H680.00 M1107.40 700.66 H1112.40 M685.00 751.84 H680.00 M1107.40 751.84 H1112.40 M685.00 777.42 H680.00 M1107.40 777.42 H1112.40 M685.00 803.01 H680.00 M1107.40 803.01 H1112.40 M685.00 854.19 H680.00 M1107.40 854.19 H1112.40 M685.00 879.77 H680.00 M1107.40 879.77 H1112.40 M685.00 905.36 H680.00 M1107.40 905.36 H1112.40 M685.00 956.54 H680.00 M1107.40 956.54 H1112.40 M685.00 982.12 H680.00 M1107.40 982.12 H1112.40 M685.00 1007.71 H680.00 M1107.40 1007.71 H1112.40" stroke="#000" stroke-width="1.30" stroke-linecap="round" fill="none"/>
<path transform="translate(660.20 631.00)" d="M-35.40 -10.69 L-35.40 -11.36 L-34.74 -12.69 L-34.07 -13.36 L-32.73 -14.03 L-30.06 -14.03 L-28.72 -13.36 L-28.06 -12.69 L-27.39 -11.36 L-27.39 -10.02 L-28.06 -8.68 L-29.39 -6.68 L-36.07 0.00 L-26.72 0.00 M-18.70 -14.03 L-20.71 -13.36 L-22.04 -11.36 L-22.71 -8.02 L-22.71 -6.01 L-22.04 -2.67 L-20.71 -0.67 L-18.70 0.00 L-17.37 0.00 L-15.36 -0.67 L-14.03 -2.67 L-13.36 -6.01 L-13.36 -8.02 L-14.03 -11.36 L-15.36 -13.36 L-17.37 -14.03 L-18.70 -14.03 M-5.34 -14.03 L-7.35 -13.36 L-8.68 -11.36 L-9.35 -8.02 L-9.35 -6.01 L-8.68 -2.67 L-7.35 -0.67 L-5.34 0.00 L-4.01 0.00 L-2.00 -0.67 L-0.67 -2.67 L0.00 -6.01 L0.00 -8.02 L-0.67 -11.36 L-2.00 -13.36 L-4.01 -14.03 L-5.34 -14.03" fill="none" stroke="#000" stroke-width="1.40" stroke-linecap="round" stroke-linejoin="round"/>
<path transform="translate(660.20 733.35)" d="M-29.39 -14.03 L-36.07 -4.68 L-26.05 -4.68 M-29.39 -14.03 L-29.39 0.00 M-18.70 -14.03 L-20.71 -13.36 L-22.04 -11.36 L-22.71 -8.02 L-22.71 -6.01 L-22.04 -2.67 L-20.71 -0.67 L-18.70 0.00 L-17.37 0.00 L-15.36 -0.67 L-14.03 -2.67 L-13.36 -6.01 L-13.36 -8.02 L-14.03 -11.36 L-15.36 -13.36 L-17.37 -14.03 L-18.70 -14.03 M-5.34 -14.03 L-7.35 -13.36 L-8.68 -11.36 L-9.35 -8.02 L-9.35 -6.01 L-8.68 -2.67 L-7.35 -0.67 L-5.34 0.00 L-4.01 0.00 L-2.00 -0.67 L-0.67 -2.67 L0.00 -6.01 L0.00 -8.02 L-0.67 -11.36 L-2.00 -13.36 L-4.01 -14.03 L-5.34 -14.03" fill="none" stroke="#000" stroke-width="1.40" stroke-linecap="round" stroke-linejoin="round"/>
<path transform="translate(660.20 835.70)" d="M-27.39 -12.02 L-28.06 -13.36 L-30.06 -14.03 L-31.40 -14.03 L-33.40 -13.36 L-34.74 -11.36 L-35.40 -8.02 L-35.40 -4.68 L-34.74 -2.00 L-33.40 -0.67 L-31.40 0.00 L-30.73 0.00 L-28.72 -0.67 L-27.39 -2.00 L-26.72 -4.01 L-26.72 -4.68 L-27.39 -6.68 L-28.72 -8.02 L-30.73 -8.68 L-31.40 -8.68 L-33.40 -8.02 L-34.74 -6.68 L-35.40 -4.68 M-18.70 -14.03 L-20.71 -13.36 L-22.04 -11.36 L-22.71 -8.02 L-22.71 -6.01 L-22.04 -2.67 L-20.71 -0.67 L-18.70 0.00 L-17.37 0.00 L-15.36 -0.67 L-14.03 -2.67 L-13.36 -6.01 L-13.36 -8.02 L-14.03 -11.36 L-15.36 -13.36 L-17.37 -14.03 L-18.70 -14.03 M-5.34 -14.03 L-7.35 -13.36 L-8.68 -11.36 L-9.35 -8.02 L-9.35 -6.01 L-8.68 -2.67 L-7.35 -0.67 L-5.34 0.00 L-4.01 0.00 L-2.00 -0.67 L-0.67 -2.67 L0.00 -6.01 L0.00 -8.02 L-0.67 -11.36 L-2.00 -13.36 L-4.01 -14.03 L-5.34 -14.03" fill="none" stroke="#000" stroke-width="1.40" stroke-linecap="round" stroke-linejoin="round"/>
<path transform="translate(660.20 938.05)" d="M-32.73 -14.03 L-34.74 -13.36 L-35.40 -12.02 L-35.40 -10.69 L-34.74 -9.35 L-33.40 -8.68 L-30.73 -8.02 L-28.72 -7.35 L-27.39 -6.01 L-26.72 -4.68 L-26.72 -2.67 L-27.39 -1.34 L-28.06 -0.67 L-30.06 0.00 L-32.73 0.00 L-34.74 -0.67 L-35.40 -1.34 L-36.07 -2.67 L-36.07 -4.68 L-35.40 -6.01 L-34.07 -7.35 L-32.06 -8.02 L-29.39 -8.68 L-28.06 -9.35 L-27.39 -10.69 L-27.39 -12.02 L-28.06 -13.36 L-30.06 -14.03 L-32.73 -14.03 M-18.70 -14.03 L-20.71 -13.36 L-22.04 -11.36 L-22.71 -8.02 L-22.71 -6.01 L-22.04 -2.67 L-20.71 -0.67 L-18.70 0.00 L-17.37 0.00 L-15.36 -0.67 L-14.03 -2.67 L-13.36 -6.01 L-13.36 -8.02 L-14.03 -11.36 L-15.36 -13.36 L-17.37 -14.03 L-18.70 -14.03 M-5.34 -14.03 L-7.35 -13.36 L-8.68 -11.36 L-9.35 -8.02 L-9.35 -6.01 L-8.68 -2.67 L-7.35 -0.67 L-5.34 0.00 L-4.01 0.00 L-2.00 -0.67 L-0.67 -2.67 L0.00 -6.01 L0.00 -8.02 L-0.67 -11.36 L-2.00 -13.36 L-4.01 -14.03 L-5.34 -14.03" fill="none" stroke="#000" stroke-width="1.40" stroke-linecap="round" stroke-linejoin="round"/>
<path transform="translate(660.20 1040.40)" d="M-47.43 -11.36 L-46.09 -12.02 L-44.09 -14.03 L-44.09 0.00 M-32.06 -14.03 L-34.07 -13.36 L-35.40 -11.36 L-36.07 -8.02 L-36.07 -6.01 L-35.40 -2.67 L-34.07 -0.67 L-32.06 0.00 L-30.73 0.00 L-28.72 -0.67 L-27.39 -2.67 L-26.72 -6.01 L-26.72 -8.02 L-27.39 -11.36 L-28.72 -13.36 L-30.73 -14.03 L-32.06 -14.03 M-18.70 -14.03 L-20.71 -13.36 L-22.04 -11.36 L-22.71 -8.02 L-22.71 -6.01 L-22.04 -2.67 L-20.71 -0.67 L-18.70 0.00 L-17.37 0.00 L-15.36 -0.67 L-14.03 -2.67 L-13.36 -6.01 L-13.36 -8.02 L-14.03 -11.36 L-15.36 -13.36 L-17.37 -14.03 L-18.70 -14.03 M-5.34 -14.03 L-7.35 -13.36 L-8.68 -11.36 L-9.35 -8.02 L-9.35 -6.01 L-8.68 -2.67 L-7.35 -0.67 L-5.34 0.00 L-4.01 0.00 L-2.00 -0.67 L-0.67 -2.67 L0.00 -6.01 L0.00 -8.02 L-0.67 -11.36 L-2.00 -13.36 L-4.01 -14.03 L-5.34 -14.03" fill="none" stroke="#000" stroke-width="1.40" stroke-linecap="round" stroke-linejoin="round"/>
<path transform="translate(685.00 1084.90)" d="M-10.69 -14.03 L-12.69 -13.36 L-14.03 -11.36 L-14.70 -8.02 L-14.70 -6.01 L-14.03 -2.67 L-12.69 -0.67 L-10.69 0.00 L-9.35 0.00 L-7.35 -0.67 L-6.01 -2.67 L-5.34 -6.01 L-5.34 -8.02 L-6.01 -11.36 L-7.35 -13.36 L-9.35 -14.03 L-10.69 -14.03 M0.00 -1.34 L-0.67 -0.67 L0.00 0.00 L0.67 -0.67 L0.00 -1.34 M9.35 -14.03 L7.35 -13.36 L6.01 -11.36 L5.34 -8.02 L5.34 -6.01 L6.01 -2.67 L7.35 -0.67 L9.35 0.00 L10.69 0.00 L12.69 -0.67 L14.03 -2.67 L14.70 -6.01 L14.70 -8.02 L14.03 -11.36 L12.69 -13.36 L10.69 -14.03 L9.35 -14.03" fill="none" stroke="#000" stroke-width="1.40" stroke-linecap="round" stroke-linejoin="round"/>
<path transform="translate(745.34 1084.90)" d="M-13.69 -11.36 L-12.36 -12.02 L-10.35 -14.03 L-10.35 0.00 M-1.00 -1.34 L-1.67 -0.67 L-1.00 0.00 L-0.33 -0.67 L-1.00 -1.34 M8.35 -14.03 L6.35 -13.36 L5.01 -11.36 L4.34 -8.02 L4.34 -6.01 L5.01 -2.67 L6.35 -0.67 L8.35 0.00 L9.69 0.00 L11.69 -0.67 L13.03 -2.67 L13.69 -6.01 L13.69 -8.02 L13.03 -11.36 L11.69 -13.36 L9.69 -14.03 L8.35 -14.03" fill="none" stroke="#000" stroke-width="1.40" stroke-linecap="round" stroke-linejoin="round"/>
<path transform="translate(805.69 1084.90)" d="M-14.03 -10.69 L-14.03 -11.36 L-13.36 -12.69 L-12.69 -13.36 L-11.36 -14.03 L-8.68 -14.03 L-7.35 -13.36 L-6.68 -12.69 L-6.01 -11.36 L-6.01 -10.02 L-6.68 -8.68 L-8.02 -6.68 L-14.70 0.00 L-5.34 0.00 M0.00 -1.34 L-0.67 -0.67 L0.00 0.00 L0.67 -0.67 L0.00 -1.34 M9.35 -14.03 L7.35 -13.36 L6.01 -11.36 L5.34 -8.02 L5.34 -6.01 L6.01 -2.67 L7.35 -0.67 L9.35 0.00 L10.69 0.00 L12.69 -0.67 L14.03 -2.67 L14.70 -6.01 L14.70 -8.02 L14.03 -11.36 L12.69 -13.36 L10.69 -14.03 L9.35 -14.03" fill="none" stroke="#000" stroke-width="1.40" stroke-linecap="round" stroke-linejoin="round"/>
<path transform="translate(866.03 1084.90)" d="M-13.36 -14.03 L-6.01 -14.03 L-10.02 -8.68 L-8.02 -8.68 L-6.68 -8.02 L-6.01 -7.35 L-5.34 -5.34 L-5.34 -4.01 L-6.01 -2.00 L-7.35 -0.67 L-9.35 0.00 L-11.36 0.00 L-13.36 -0.67 L-14.03 -1.34 L-14.70 -2.67 M0.00 -1.34 L-0.67 -0.67 L0.00 0.00 L0.67 -0.67 L0.00 -1.34 M9.35 -14.03 L7.35 -13.36 L6.01 -11.36 L5.34 -8.02 L5.34 -6.01 L6.01 -2.67 L7.35 -0.67 L9.35 0.00 L10.69 0.00 L12.69 -0.67 L14.03 -2.67 L14.70 -6.01 L14.70 -8.02 L14.03 -11.36 L12.69 -13.36 L10.69 -14.03 L9.35 -14.03" fill="none" stroke="#000" stroke-width="1.40" stroke-linecap="round" stroke-linejoin="round"/>
<path transform="translate(926.37 1084.90)" d="M-8.02 -14.03 L-14.70 -4.68 L-4.68 -4.68 M-8.02 -14.03 L-8.02 0.00 M0.00 -1.34 L-0.67 -0.67 L0.00 0.00 L0.67 -0.67 L0.00 -1.34 M9.35 -14.03 L7.35 -13.36 L6.01 -11.36 L5.34 -8.02 L5.34 -6.01 L6.01 -2.67 L7.35 -0.67 L9.35 0.00 L10.69 0.00 L12.69 -0.67 L14.03 -2.67 L14.70 -6.01 L14.70 -8.02 L14.03 -11.36 L12.69 -13.36 L10.69 -14.03 L9.35 -14.03" fill="none" stroke="#000" stroke-width="1.40" stroke-linecap="round" stroke-linejoin="round"/>
<path transform="translate(986.71 1084.90)" d="M-6.68 -14.03 L-13.36 -14.03 L-14.03 -8.02 L-13.36 -8.68 L-11.36 -9.35 L-9.35 -9.35 L-7.35 -8.68 L-6.01 -7.35 L-5.34 -5.34 L-5.34 -4.01 L-6.01 -2.00 L-7.35 -0.67 L-9.35 0.00 L-11.36 0.00 L-13.36 -0.67 L-14.03 -1.34 L-14.70 -2.67 M0.00 -1.34 L-0.67 -0.67 L0.00 0.00 L0.67 -0.67 L0.00 -1.34 M9.35 -14.03 L7.35 -13.36 L6.01 -11.36 L5.34 -8.02 L5.34 -6.01 L6.01 -2.67 L7.35 -0.67 L9.35 0.00 L10.69 0.00 L12.69 -0.67 L14.03 -2.67 L14.70 -6.01 L14.70 -8.02 L14.03 -11.36 L12.69 -13.36 L10.69 -14.03 L9.35 -14.03" fill="none" stroke="#000" stroke-width="1.40" stroke-linecap="round" stroke-linejoin="round"/>
<path transform="translate(1047.06 1084.90)" d="M-6.35 -12.02 L-7.01 -13.36 L-9.02 -14.03 L-10.35 -14.03 L-12.36 -13.36 L-13.69 -11.36 L-14.36 -8.02 L-14.36 -4.68 L-13.69 -2.00 L-12.36 -0.67 L-10.35 0.00 L-9.69 0.00 L-7.68 -0.67 L-6.35 -2.00 L-5.68 -4.01 L-5.68 -4.68 L-6.35 -6.68 L-7.68 -8.02 L-9.69 -8.68 L-10.35 -8.68 L-12.36 -8.02 L-13.69 -6.68 L-14.36 -4.68 M-0.33 -1.34 L-1.00 -0.67 L-0.33 0.00 L0.33 -0.67 L-0.33 -1.34 M9.02 -14.03 L7.01 -13.36 L5.68 -11.36 L5.01 -8.02 L5.01 -6.01 L5.68 -2.67 L7.01 -0.67 L9.02 0.00 L10.35 0.00 L12.36 -0.67 L13.69 -2.67 L14.36 -6.01 L14.36 -8.02 L13.69 -11.36 L12.36 -13.36 L10.35 -14.03 L9.02 -14.03" fill="none" stroke="#000" stroke-width="1.40" stroke-linecap="round" stroke-linejoin="round"/>
<path transform="translate(1107.40 1084.90)" d="M-5.34 -14.03 L-12.02 0.00 M-14.70 -14.03 L-5.34 -14.03 M0.00 -1.34 L-0.67 -0.67 L0.00 0.00 L0.67 -0.67 L0.00 -1.34 M9.35 -14.03 L7.35 -13.36 L6.01 -11.36 L5.34 -8.02 L5.34 -6.01 L6.01 -2.67 L7.35 -0.67 L9.35 0.00 L10.69 0.00 L12.69 -0.67 L14.03 -2.67 L14.70 -6.01 L14.70 -8.02 L14.03 -11.36 L12.69 -13.36 L10.69 -14.03 L9.35 -14.03" fill="none" stroke="#000" stroke-width="1.40" stroke-linecap="round" stroke-linejoin="round"/>
<path transform="translate(684.80 610.90)" d="M4.44 -15.54 L2.96 -14.80 L1.48 -13.32 L0.74 -11.84 L0.00 -9.62 L0.00 -5.92 L0.74 -3.70 L1.48 -2.22 L2.96 -0.74 L4.44 0.00 L7.40 0.00 L8.88 -0.74 L10.36 -2.22 L11.10 -3.70 L11.84 -5.92 L11.84 -9.62 L11.10 -11.84 L10.36 -13.32 L8.88 -14.80 L7.40 -15.54 L4.44 -15.54 M27.38 -11.84 L26.64 -13.32 L25.16 -14.80 L23.68 -15.54 L20.72 -15.54 L19.24 -14.80 L17.76 -13.32 L17.02 -11.84 L16.28 -9.62 L16.28 -5.92 L17.02 -3.70 L17.76 -2.22 L19.24 -0.74 L20.72 0.00 L23.68 0.00 L25.16 -0.74 L26.64 -2.22 L27.38 -3.70 M35.52 -15.54 L35.52 0.00 M30.34 -15.54 L40.70 -15.54" fill="none" stroke="#000" stroke-width="1.30" stroke-linecap="round" stroke-linejoin="round"/>
<path transform="translate(896.35 1118.90)" d="M-149.57 -15.23 L-151.26 -16.92 L-153.80 -17.77 L-157.19 -17.77 L-159.72 -16.92 L-161.42 -15.23 L-161.42 -13.54 L-160.57 -11.84 L-159.72 -11.00 L-158.03 -10.15 L-152.96 -8.46 L-151.26 -7.61 L-150.42 -6.77 L-149.57 -5.08 L-149.57 -2.54 L-151.26 -0.85 L-153.80 0.00 L-157.19 0.00 L-159.72 -0.85 L-161.42 -2.54 M-143.65 -11.84 L-143.65 5.92 M-143.65 -9.31 L-141.96 -11.00 L-140.27 -11.84 L-137.73 -11.84 L-136.04 -11.00 L-134.34 -9.31 L-133.50 -6.77 L-133.50 -5.08 L-134.34 -2.54 L-136.04 -0.85 L-137.73 0.00 L-140.27 0.00 L-141.96 -0.85 L-143.65 -2.54 M-128.42 -6.77 L-118.27 -6.77 L-118.27 -8.46 L-119.12 -10.15 L-119.96 -11.00 L-121.65 -11.84 L-124.19 -11.84 L-125.88 -11.00 L-127.58 -9.31 L-128.42 -6.77 L-128.42 -5.08 L-127.58 -2.54 L-125.88 -0.85 L-124.19 0.00 L-121.65 0.00 L-119.96 -0.85 L-118.27 -2.54 M-103.04 -9.31 L-104.73 -11.00 L-106.43 -11.84 L-108.96 -11.84 L-110.66 -11.00 L-112.35 -9.31 L-113.19 -6.77 L-113.19 -5.08 L-112.35 -2.54 L-110.66 -0.85 L-108.96 0.00 L-106.43 0.00 L-104.73 -0.85 L-103.04 -2.54 M-97.97 -17.77 L-97.12 -16.92 L-96.27 -17.77 L-97.12 -18.61 L-97.97 -17.77 M-97.12 -11.84 L-97.12 0.00 M-85.28 -17.77 L-86.97 -17.77 L-88.66 -16.92 L-89.51 -14.38 L-89.51 0.00 M-92.04 -11.84 L-86.12 -11.84 M-81.05 -17.77 L-80.20 -16.92 L-79.35 -17.77 L-80.20 -18.61 L-81.05 -17.77 M-80.20 -11.84 L-80.20 0.00 M-64.13 -9.31 L-65.82 -11.00 L-67.51 -11.84 L-70.05 -11.84 L-71.74 -11.00 L-73.43 -9.31 L-74.28 -6.77 L-74.28 -5.08 L-73.43 -2.54 L-71.74 -0.85 L-70.05 0.00 L-67.51 0.00 L-65.82 -0.85 L-64.13 -2.54 M-46.11 -17.77 L-46.11 0.00 M-34.26 -17.77 L-34.26 0.00 M-46.11 -9.31 L-34.26 -9.31 M-27.49 -11.84 L-27.49 -3.38 L-26.65 -0.85 L-24.96 0.00 L-22.42 0.00 L-20.73 -0.85 L-18.19 -3.38 M-18.19 -11.84 L-18.19 0.00 M-11.42 -11.84 L-11.42 0.00 M-11.42 -8.46 L-8.88 -11.00 L-7.19 -11.84 L-4.65 -11.84 L-2.96 -11.00 L-2.11 -8.46 L-2.11 0.00 M-2.11 -8.46 L0.42 -11.00 L2.11 -11.84 L4.65 -11.84 L6.34 -11.00 L7.19 -8.46 L7.19 0.00 M13.11 -17.77 L13.96 -16.92 L14.80 -17.77 L13.96 -18.61 L13.11 -17.77 M13.96 -11.84 L13.96 0.00 M30.03 -17.77 L30.03 0.00 M30.03 -9.31 L28.34 -11.00 L26.65 -11.84 L24.11 -11.84 L22.42 -11.00 L20.73 -9.31 L19.88 -6.77 L19.88 -5.08 L20.73 -2.54 L22.42 -0.85 L24.11 0.00 L26.65 0.00 L28.34 -0.85 L30.03 -2.54 M35.95 -17.77 L36.80 -16.92 L37.65 -17.77 L36.80 -18.61 L35.95 -17.77 M36.80 -11.84 L36.80 0.00 M44.41 -17.77 L44.41 -3.38 L45.26 -0.85 L46.95 0.00 L48.64 0.00 M41.88 -11.84 L47.80 -11.84 M52.03 -11.84 L57.10 0.00 M62.18 -11.84 L57.10 0.00 L55.41 3.38 L53.72 5.08 L52.03 5.92 L51.18 5.92 M85.28 -21.15 L83.58 -19.46 L81.89 -16.92 L80.20 -13.54 L79.35 -9.31 L79.35 -5.92 L80.20 -1.69 L81.89 1.69 L83.58 4.23 L85.28 5.92 M100.50 -11.84 L100.50 1.69 L99.66 4.23 L98.81 5.08 L97.12 5.92 L94.58 5.92 L92.89 5.08 M100.50 -9.31 L98.81 -11.00 L97.12 -11.84 L94.58 -11.84 L92.89 -11.00 L91.20 -9.31 L90.35 -6.77 L90.35 -5.08 L91.20 -2.54 L92.89 -0.85 L94.58 0.00 L97.12 0.00 L98.81 -0.85 L100.50 -2.54 M120.81 -21.15 L105.58 5.92 M125.88 -17.77 L125.88 0.00 M134.34 -11.84 L125.88 -3.38 M129.27 -6.77 L135.19 0.00 M149.57 -11.84 L149.57 1.69 L148.73 4.23 L147.88 5.08 L146.19 5.92 L143.65 5.92 L141.96 5.08 M149.57 -9.31 L147.88 -11.00 L146.19 -11.84 L143.65 -11.84 L141.96 -11.00 L140.27 -9.31 L139.42 -6.77 L139.42 -5.08 L140.27 -2.54 L141.96 -0.85 L143.65 0.00 L146.19 0.00 L147.88 -0.85 L149.57 -2.54 M155.49 -21.15 L157.19 -19.46 L158.88 -16.92 L160.57 -13.54 L161.42 -9.31 L161.42 -5.92 L160.57 -1.69 L158.88 1.69 L157.19 4.23 L155.49 5.92" fill="none" stroke="#000" stroke-width="1.45" stroke-linecap="round" stroke-linejoin="round"/>
<path transform="translate(186.90 34.20)" d="M0.00 -19.32 L4.57 0.00 M9.14 -19.32 L4.57 0.00 M9.14 -19.32 L13.71 0.00 M18.28 -19.32 L13.71 0.00 M22.85 -7.36 L33.82 -7.36 L33.82 -9.20 L32.90 -11.04 L31.99 -11.96 L30.16 -12.88 L27.42 -12.88 L25.59 -11.96 L23.76 -10.12 L22.85 -7.36 L22.85 -5.52 L23.76 -2.76 L25.59 -0.92 L27.42 0.00 L30.16 0.00 L31.99 -0.92 L33.82 -2.76 M49.36 -10.12 L48.44 -11.96 L45.70 -12.88 L42.96 -12.88 L40.22 -11.96 L39.30 -10.12 L40.22 -8.28 L42.04 -7.36 L46.61 -6.44 L48.44 -5.52 L49.36 -3.68 L49.36 -2.76 L48.44 -0.92 L45.70 0.00 L42.96 0.00 L40.22 -0.92 L39.30 -2.76 M56.67 -19.32 L56.67 -3.68 L57.58 -0.92 L59.41 0.00 L61.24 0.00 M53.93 -12.88 L60.32 -12.88 M65.81 -7.36 L76.78 -7.36 L76.78 -9.20 L75.86 -11.04 L74.95 -11.96 L73.12 -12.88 L70.38 -12.88 L68.55 -11.96 L66.72 -10.12 L65.81 -7.36 L65.81 -5.52 L66.72 -2.76 L68.55 -0.92 L70.38 0.00 L73.12 0.00 L74.95 -0.92 L76.78 -2.76 M83.17 -12.88 L83.17 0.00 M83.17 -7.36 L84.09 -10.12 L85.92 -11.96 L87.74 -12.88 L90.49 -12.88 M95.06 -12.88 L95.06 0.00 M95.06 -9.20 L97.80 -11.96 L99.63 -12.88 L102.37 -12.88 L104.20 -11.96 L105.11 -9.20 L105.11 0.00 M111.05 3.68 L124.30 3.68 M130.70 -19.32 L130.70 0.00 M130.70 -19.32 L142.58 -19.32 M130.70 -10.12 L138.01 -10.12 M130.70 0.00 L142.58 0.00 M148.07 -12.88 L148.07 -3.68 L148.98 -0.92 L150.81 0.00 L153.55 0.00 L155.38 -0.92 L158.12 -3.68 M158.12 -12.88 L158.12 0.00 M165.43 -12.88 L165.43 0.00 M165.43 -7.36 L166.35 -10.12 L168.18 -11.96 L170.00 -12.88 L172.75 -12.88 M180.97 -12.88 L179.14 -11.96 L177.32 -10.12 L176.40 -7.36 L176.40 -5.52 L177.32 -2.76 L179.14 -0.92 L180.97 0.00 L183.71 0.00 L185.54 -0.92 L187.37 -2.76 L188.28 -5.52 L188.28 -7.36 L187.37 -10.12 L185.54 -11.96 L183.71 -12.88 L180.97 -12.88 M194.68 -12.88 L194.68 6.44 M194.68 -10.12 L196.51 -11.96 L198.34 -12.88 L201.08 -12.88 L202.91 -11.96 L204.74 -10.12 L205.65 -7.36 L205.65 -5.52 L204.74 -2.76 L202.91 -0.92 L201.08 0.00 L198.34 0.00 L196.51 -0.92 L194.68 -2.76 M211.13 -7.36 L222.10 -7.36 L222.10 -9.20 L221.19 -11.04 L220.27 -11.96 L218.45 -12.88 L215.70 -12.88 L213.88 -11.96 L212.05 -10.12 L211.13 -7.36 L211.13 -5.52 L212.05 -2.76 L213.88 -0.92 L215.70 0.00 L218.45 0.00 L220.27 -0.92 L222.10 -2.76 M257.20 -19.32 L257.20 0.00 M274.57 -12.88 L274.57 0.00 M274.57 -10.12 L272.74 -11.96 L270.91 -12.88 L268.17 -12.88 L266.34 -11.96 L264.51 -10.12 L263.60 -7.36 L263.60 -5.52 L264.51 -2.76 L266.34 -0.92 L268.17 0.00 L270.91 0.00 L272.74 -0.92 L274.57 -2.76 M282.79 -19.32 L282.79 -3.68 L283.71 -0.92 L285.53 0.00 L287.36 0.00 M280.05 -12.88 L286.45 -12.88 M291.93 -19.32 L292.85 -18.40 L293.76 -19.32 L292.85 -20.24 L291.93 -19.32 M292.85 -12.88 L292.85 0.00 M301.07 -19.32 L301.07 -3.68 L301.99 -0.92 L303.81 0.00 L305.64 0.00 M298.33 -12.88 L304.73 -12.88 M311.13 -12.88 L311.13 -3.68 L312.04 -0.92 L313.87 0.00 L316.61 0.00 L318.44 -0.92 L321.18 -3.68 M321.18 -12.88 L321.18 0.00 M338.55 -19.32 L338.55 0.00 M338.55 -10.12 L336.72 -11.96 L334.89 -12.88 L332.15 -12.88 L330.32 -11.96 L328.49 -10.12 L327.58 -7.36 L327.58 -5.52 L328.49 -2.76 L330.32 -0.92 L332.15 0.00 L334.89 0.00 L336.72 -0.92 L338.55 -2.76 M344.94 -7.36 L355.91 -7.36 L355.91 -9.20 L355.00 -11.04 L354.08 -11.96 L352.26 -12.88 L349.51 -12.88 L347.69 -11.96 L345.86 -10.12 L344.94 -7.36 L344.94 -5.52 L345.86 -2.76 L347.69 -0.92 L349.51 0.00 L352.26 0.00 L354.08 -0.92 L355.91 -2.76 M362.31 -11.04 L378.76 -11.04 M362.31 -5.52 L378.76 -5.52 M410.48 -19.32 L401.34 -19.32 L400.42 -11.04 L401.34 -11.96 L404.08 -12.88 L406.82 -12.88 L409.56 -11.96 L411.39 -10.12 L412.31 -7.36 L412.31 -5.52 L411.39 -2.76 L409.56 -0.92 L406.82 0.00 L404.08 0.00 L401.34 -0.92 L400.42 -1.84 L399.51 -3.68 M420.53 -15.64 L422.36 -16.56 L425.10 -19.32 L425.10 0.00 M437.90 -1.84 L436.98 -0.92 L437.90 0.00 L438.81 -0.92 L437.90 -1.84 M457.09 -16.56 L456.18 -18.40 L453.44 -19.32 L451.61 -19.32 L448.87 -18.40 L447.04 -15.64 L446.12 -11.04 L446.12 -6.44 L447.04 -2.76 L448.87 -0.92 L451.61 0.00 L452.52 0.00 L455.26 -0.92 L457.09 -2.76 L458.01 -5.52 L458.01 -6.44 L457.09 -9.20 L455.26 -11.04 L452.52 -11.96 L451.61 -11.96 L448.87 -11.04 L447.04 -9.20 L446.12 -6.44 M464.40 -14.72 L464.40 -15.64 L465.32 -17.48 L466.23 -18.40 L468.06 -19.32 L471.72 -19.32 L473.54 -18.40 L474.46 -17.48 L475.37 -15.64 L475.37 -13.80 L474.46 -11.96 L472.63 -9.20 L463.49 0.00 L476.29 0.00 M493.65 -16.56 L492.74 -18.40 L490.00 -19.32 L488.17 -19.32 L485.43 -18.40 L483.60 -15.64 L482.68 -11.04 L482.68 -6.44 L483.60 -2.76 L485.43 -0.92 L488.17 0.00 L489.08 0.00 L491.82 -0.92 L493.65 -2.76 L494.57 -5.52 L494.57 -6.44 L493.65 -9.20 L491.82 -11.04 L489.08 -11.96 L488.17 -11.96 L485.43 -11.04 L483.60 -9.20 L482.68 -6.44 M515.31 -19.32 L515.31 0.00 M515.31 -19.32 L528.11 0.00 M528.11 -19.32 L528.11 0.00 M549.77 -19.32 L549.77 0.00 M560.74 -12.88 L558.91 -11.96 L557.08 -10.12 L556.17 -7.36 L556.17 -5.52 L557.08 -2.76 L558.91 -0.92 L560.74 0.00 L563.48 0.00 L565.31 -0.92 L567.14 -2.76 L568.05 -5.52 L568.05 -7.36 L567.14 -10.12 L565.31 -11.96 L563.48 -12.88 L560.74 -12.88 M574.45 -12.88 L574.45 0.00 M574.45 -9.20 L577.19 -11.96 L579.02 -12.88 L581.76 -12.88 L583.59 -11.96 L584.50 -9.20 L584.50 0.00 M601.87 -12.88 L601.87 1.84 L600.96 4.60 L600.04 5.52 L598.21 6.44 L595.47 6.44 L593.64 5.52 M601.87 -10.12 L600.04 -11.96 L598.21 -12.88 L595.47 -12.88 L593.64 -11.96 L591.82 -10.12 L590.90 -7.36 L590.90 -5.52 L591.82 -2.76 L593.64 -0.92 L595.47 0.00 L598.21 0.00 L600.04 -0.92 L601.87 -2.76 M608.27 -19.32 L609.18 -18.40 L610.10 -19.32 L609.18 -20.24 L608.27 -19.32 M609.18 -12.88 L609.18 0.00 M617.41 -19.32 L617.41 -3.68 L618.32 -0.92 L620.15 0.00 L621.98 0.00 M614.67 -12.88 L621.06 -12.88 M627.46 -12.88 L627.46 -3.68 L628.38 -0.92 L630.20 0.00 L632.95 0.00 L634.77 -0.92 L637.51 -3.68 M637.51 -12.88 L637.51 0.00 M654.88 -19.32 L654.88 0.00 M654.88 -10.12 L653.05 -11.96 L651.23 -12.88 L648.48 -12.88 L646.65 -11.96 L644.83 -10.12 L643.91 -7.36 L643.91 -5.52 L644.83 -2.76 L646.65 -0.92 L648.48 0.00 L651.23 0.00 L653.05 -0.92 L654.88 -2.76 M661.28 -7.36 L672.25 -7.36 L672.25 -9.20 L671.33 -11.04 L670.42 -11.96 L668.59 -12.88 L665.85 -12.88 L664.02 -11.96 L662.19 -10.12 L661.28 -7.36 L661.28 -5.52 L662.19 -2.76 L664.02 -0.92 L665.85 0.00 L668.59 0.00 L670.42 -0.92 L672.25 -2.76 M678.64 -11.04 L695.10 -11.04 M678.64 -5.52 L695.10 -5.52 M726.81 -19.32 L717.67 -19.32 L716.76 -11.04 L717.67 -11.96 L720.41 -12.88 L723.16 -12.88 L725.90 -11.96 L727.73 -10.12 L728.64 -7.36 L728.64 -5.52 L727.73 -2.76 L725.90 -0.92 L723.16 0.00 L720.41 0.00 L717.67 -0.92 L716.76 -1.84 L715.84 -3.68 M749.39 -19.32 L749.39 0.00 M749.39 -19.32 L761.27 -19.32 M749.39 -10.12 L756.70 -10.12 M749.39 0.00 L761.27 0.00" fill="none" stroke="#000" stroke-width="1.45" stroke-linecap="round" stroke-linejoin="round"/>
<path d="M1130.00 87.20 H868.30 V164.70 H1130.00" fill="none" stroke="#000" stroke-width="1.35"/>
<path d="M872.2 108.55 H930.8" stroke="#ff0000" stroke-width="2.50" stroke-linecap="round" fill="none"/>
<circle cx="901.4" cy="143.4" r="4.10" fill="#b03060"/>
<g clip-path="url(#lgclip)">
<path transform="translate(932.90 113.60)" d="M11.10 -11.92 L10.36 -13.41 L8.88 -14.90 L7.40 -15.64 L4.44 -15.64 L2.96 -14.90 L1.48 -13.41 L0.74 -11.92 L0.00 -9.69 L0.00 -5.96 L0.74 -3.73 L1.48 -2.23 L2.96 -0.74 L4.44 0.00 L7.40 0.00 L8.88 -0.74 L10.36 -2.23 L11.10 -3.73 M16.28 -15.64 L16.28 0.00 M16.28 -15.64 L25.90 -15.64 M16.28 -8.20 L22.20 -8.20 M16.28 0.00 L25.90 0.00 M39.96 -13.41 L38.48 -14.90 L36.26 -15.64 L33.30 -15.64 L31.08 -14.90 L29.60 -13.41 L29.60 -11.92 L30.34 -10.43 L31.08 -9.69 L32.56 -8.94 L37.00 -7.45 L38.48 -6.71 L39.22 -5.96 L39.96 -4.47 L39.96 -2.23 L38.48 -0.74 L36.26 0.00 L33.30 0.00 L31.08 -0.74 L29.60 -2.23 M45.14 -15.64 L45.14 0.00 M45.14 -15.64 L51.06 0.00 M56.98 -15.64 L51.06 0.00 M56.98 -15.64 L56.98 0.00 M62.90 -11.92 L62.90 -12.66 L63.64 -14.15 L64.38 -14.90 L65.86 -15.64 L68.82 -15.64 L70.30 -14.90 L71.04 -14.15 L71.78 -12.66 L71.78 -11.18 L71.04 -9.69 L69.56 -7.45 L62.16 0.00 L72.52 0.00 M77.70 -15.64 L77.70 0.00 M77.70 -15.64 L84.36 -15.64 L86.58 -14.90 L87.32 -14.15 L88.06 -12.66 L88.06 -11.18 L87.32 -9.69 L86.58 -8.94 L84.36 -8.20 M77.70 -8.20 L84.36 -8.20 L86.58 -7.45 L87.32 -6.71 L88.06 -5.21 L88.06 -2.98 L87.32 -1.49 L86.58 -0.74 L84.36 0.00 L77.70 0.00 M93.24 -11.92 L93.24 -12.66 L93.98 -14.15 L94.72 -14.90 L96.20 -15.64 L99.16 -15.64 L100.64 -14.90 L101.38 -14.15 L102.12 -12.66 L102.12 -11.18 L101.38 -9.69 L99.90 -7.45 L92.50 0.00 L102.86 0.00 M106.93 2.98 L117.66 2.98 M126.54 -15.64 L125.06 -14.90 L123.58 -13.41 L122.84 -11.92 L122.10 -9.69 L122.10 -5.96 L122.84 -3.73 L123.58 -2.23 L125.06 -0.74 L126.54 0.00 L129.50 0.00 L130.98 -0.74 L132.46 -2.23 L133.20 -3.73 L133.94 -5.96 L133.94 -9.69 L133.20 -11.92 L132.46 -13.41 L130.98 -14.90 L129.50 -15.64 L126.54 -15.64 M146.52 -8.20 L145.78 -9.69 L143.56 -10.43 L141.34 -10.43 L139.12 -9.69 L138.38 -8.20 L139.12 -6.71 L140.60 -5.96 L144.30 -5.21 L145.78 -4.47 L146.52 -2.98 L146.52 -2.23 L145.78 -0.74 L143.56 0.00 L141.34 0.00 L139.12 -0.74 L138.38 -2.23 M151.70 -15.64 L151.70 0.00 M160.58 -10.43 L159.10 -9.69 L157.62 -8.20 L156.88 -5.96 L156.88 -4.47 L157.62 -2.23 L159.10 -0.74 L160.58 0.00 L162.80 0.00 L164.28 -0.74 L165.76 -2.23 L166.50 -4.47 L166.50 -5.96 L165.76 -8.20 L164.28 -9.69 L162.80 -10.43 L160.58 -10.43 M170.57 2.98 L181.30 2.98 M186.48 -15.64 L186.48 0.00 M186.48 -15.64 L196.10 -15.64 M186.48 -8.20 L192.40 -8.20" fill="none" stroke="#000" stroke-width="1.45" stroke-linecap="round" stroke-linejoin="round"/>
<path transform="translate(932.90 151.20)" d="M0.00 -10.43 L0.00 0.00 M0.00 -5.96 L0.74 -8.20 L2.22 -9.69 L3.70 -10.43 L5.92 -10.43 M17.76 -10.43 L17.76 0.00 M17.76 -8.20 L16.28 -9.69 L14.80 -10.43 L12.58 -10.43 L11.10 -9.69 L9.62 -8.20 L8.88 -5.96 L8.88 -4.47 L9.62 -2.23 L11.10 -0.74 L12.58 0.00 L14.80 0.00 L16.28 -0.74 L17.76 -2.23 M26.64 -10.43 L25.16 -9.69 L23.68 -8.20 L22.94 -5.96 L22.94 -4.47 L23.68 -2.23 L25.16 -0.74 L26.64 0.00 L28.86 0.00 L30.34 -0.74 L31.82 -2.23 L32.56 -4.47 L32.56 -5.96 L31.82 -8.20 L30.34 -9.69 L28.86 -10.43 L26.64 -10.43 M37.74 -15.64 L37.74 0.00 M37.74 -8.20 L39.22 -9.69 L40.70 -10.43 L42.92 -10.43 L44.40 -9.69 L45.88 -8.20 L46.62 -5.96 L46.62 -4.47 L45.88 -2.23 L44.40 -0.74 L42.92 0.00 L40.70 0.00 L39.22 -0.74 L37.74 -2.23 M59.20 -8.20 L58.46 -9.69 L56.24 -10.43 L54.02 -10.43 L51.80 -9.69 L51.06 -8.20 L51.80 -6.71 L53.28 -5.96 L56.98 -5.21 L58.46 -4.47 L59.20 -2.98 L59.20 -2.23 L58.46 -0.74 L56.24 0.00 L54.02 0.00 L51.80 -0.74 L51.06 -2.23" fill="none" stroke="#000" stroke-width="1.45" stroke-linecap="round" stroke-linejoin="round"/>
</g>
<defs><clipPath id="lgclip"><rect x="0" y="0" width="1130.6" height="1135"/></clipPath></defs>
</svg>
</body></html>
